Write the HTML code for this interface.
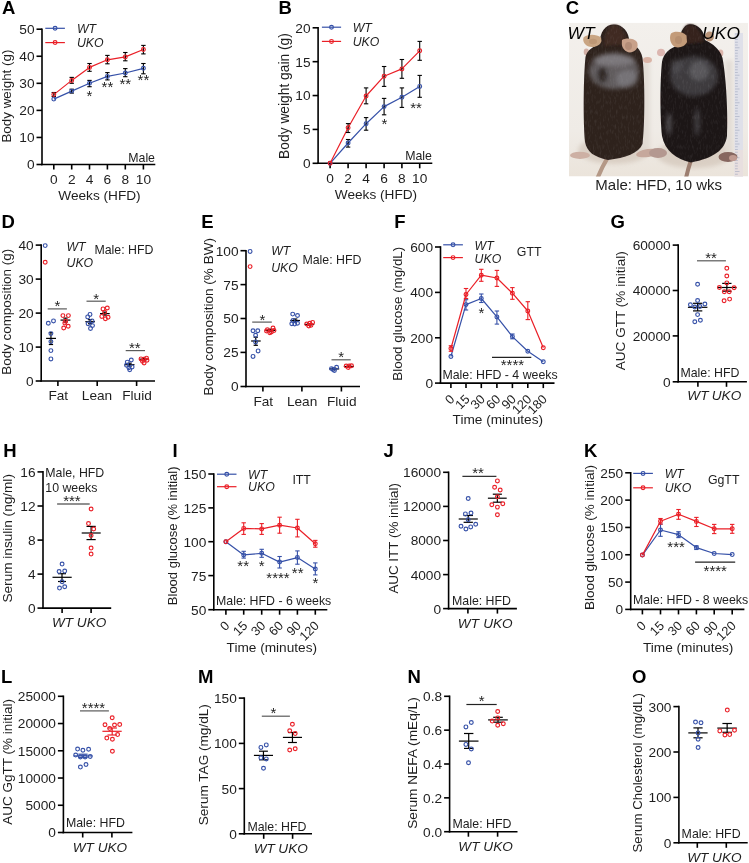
<!DOCTYPE html><html><head><meta charset="utf-8"><style>html,body{margin:0;padding:0;background:#fff;}svg{display:block;font-family:"Liberation Sans",sans-serif;will-change:transform;}</style></head><body>
<svg width="749" height="863" viewBox="0 0 749 863">
<rect width="749" height="863" fill="#fff"/>
<text x="2.00" y="13.60" font-size="18.5" text-anchor="start" fill="#000" style="font-weight:bold">A</text>
<line x1="42.00" y1="28.40" x2="42.00" y2="165.30" stroke="#000" stroke-width="1.6" stroke-linecap="butt"/>
<line x1="36.50" y1="29.20" x2="42.00" y2="29.20" stroke="#000" stroke-width="1.6" stroke-linecap="butt"/>
<text x="34.50" y="34.10" font-size="13.7" text-anchor="end" fill="#1e1e1e">50</text>
<line x1="36.50" y1="56.26" x2="42.00" y2="56.26" stroke="#000" stroke-width="1.6" stroke-linecap="butt"/>
<text x="34.50" y="61.16" font-size="13.7" text-anchor="end" fill="#1e1e1e">40</text>
<line x1="36.50" y1="83.32" x2="42.00" y2="83.32" stroke="#000" stroke-width="1.6" stroke-linecap="butt"/>
<text x="34.50" y="88.22" font-size="13.7" text-anchor="end" fill="#1e1e1e">30</text>
<line x1="36.50" y1="110.38" x2="42.00" y2="110.38" stroke="#000" stroke-width="1.6" stroke-linecap="butt"/>
<text x="34.50" y="115.28" font-size="13.7" text-anchor="end" fill="#1e1e1e">20</text>
<line x1="36.50" y1="137.44" x2="42.00" y2="137.44" stroke="#000" stroke-width="1.6" stroke-linecap="butt"/>
<text x="34.50" y="142.34" font-size="13.7" text-anchor="end" fill="#1e1e1e">10</text>
<line x1="36.50" y1="164.50" x2="42.00" y2="164.50" stroke="#000" stroke-width="1.6" stroke-linecap="butt"/>
<text x="34.50" y="169.40" font-size="13.7" text-anchor="end" fill="#1e1e1e">0</text>
<line x1="41.20" y1="164.50" x2="155.30" y2="164.50" stroke="#000" stroke-width="1.6" stroke-linecap="butt"/>
<line x1="53.80" y1="164.50" x2="53.80" y2="169.50" stroke="#000" stroke-width="1.6" stroke-linecap="butt"/>
<line x1="71.70" y1="164.50" x2="71.70" y2="169.50" stroke="#000" stroke-width="1.6" stroke-linecap="butt"/>
<line x1="89.50" y1="164.50" x2="89.50" y2="169.50" stroke="#000" stroke-width="1.6" stroke-linecap="butt"/>
<line x1="107.40" y1="164.50" x2="107.40" y2="169.50" stroke="#000" stroke-width="1.6" stroke-linecap="butt"/>
<line x1="125.30" y1="164.50" x2="125.30" y2="169.50" stroke="#000" stroke-width="1.6" stroke-linecap="butt"/>
<line x1="143.40" y1="164.50" x2="143.40" y2="169.50" stroke="#000" stroke-width="1.6" stroke-linecap="butt"/>
<text x="53.80" y="183.60" font-size="13.7" text-anchor="middle" fill="#1e1e1e">0</text>
<text x="71.70" y="183.60" font-size="13.7" text-anchor="middle" fill="#1e1e1e">2</text>
<text x="89.50" y="183.60" font-size="13.7" text-anchor="middle" fill="#1e1e1e">4</text>
<text x="107.40" y="183.60" font-size="13.7" text-anchor="middle" fill="#1e1e1e">6</text>
<text x="125.30" y="183.60" font-size="13.7" text-anchor="middle" fill="#1e1e1e">8</text>
<text x="143.40" y="183.60" font-size="13.7" text-anchor="middle" fill="#1e1e1e">10</text>
<text x="99.50" y="199.60" font-size="13.65" text-anchor="middle" fill="#1e1e1e">Weeks (HFD)</text>
<text x="11.40" y="96.10" font-size="13.4" text-anchor="middle" fill="#1e1e1e" transform="rotate(-90 11.4 96.1)">Body weight (g)</text>
<line x1="45.30" y1="28.30" x2="64.90" y2="28.30" stroke="#3651a8" stroke-width="1.2" stroke-linecap="butt"/>
<circle cx="55.10" cy="28.30" r="1.9" fill="none" stroke="#3651a8" stroke-width="1.15"/>
<text x="76.90" y="33.00" font-size="12.3" text-anchor="start" fill="#1e1e1e" style="font-style:italic">WT</text>
<line x1="45.30" y1="42.60" x2="64.90" y2="42.60" stroke="#ea1f27" stroke-width="1.2" stroke-linecap="butt"/>
<circle cx="55.10" cy="42.60" r="1.9" fill="none" stroke="#ea1f27" stroke-width="1.15"/>
<text x="76.90" y="47.40" font-size="12.3" text-anchor="start" fill="#1e1e1e" style="font-style:italic">UKO</text>
<text x="155.00" y="162.20" font-size="12.35" text-anchor="end" fill="#1e1e1e">Male</text>
<polyline points="53.80,99.10 71.70,91.10 89.50,83.30 107.40,76.40 125.30,73.00 143.40,68.30" fill="none" stroke="#3651a8" stroke-width="1.2" stroke-linejoin="round"/>
<line x1="71.70" y1="89.20" x2="71.70" y2="93.10" stroke="#000" stroke-width="1.1" stroke-linecap="butt"/>
<line x1="69.50" y1="89.20" x2="73.90" y2="89.20" stroke="#000" stroke-width="1.1" stroke-linecap="butt"/>
<line x1="69.50" y1="93.10" x2="73.90" y2="93.10" stroke="#000" stroke-width="1.1" stroke-linecap="butt"/>
<line x1="89.50" y1="80.40" x2="89.50" y2="86.70" stroke="#000" stroke-width="1.1" stroke-linecap="butt"/>
<line x1="87.30" y1="80.40" x2="91.70" y2="80.40" stroke="#000" stroke-width="1.1" stroke-linecap="butt"/>
<line x1="87.30" y1="86.70" x2="91.70" y2="86.70" stroke="#000" stroke-width="1.1" stroke-linecap="butt"/>
<line x1="107.40" y1="72.60" x2="107.40" y2="79.90" stroke="#000" stroke-width="1.1" stroke-linecap="butt"/>
<line x1="105.20" y1="72.60" x2="109.60" y2="72.60" stroke="#000" stroke-width="1.1" stroke-linecap="butt"/>
<line x1="105.20" y1="79.90" x2="109.60" y2="79.90" stroke="#000" stroke-width="1.1" stroke-linecap="butt"/>
<line x1="125.30" y1="68.60" x2="125.30" y2="76.70" stroke="#000" stroke-width="1.1" stroke-linecap="butt"/>
<line x1="123.10" y1="68.60" x2="127.50" y2="68.60" stroke="#000" stroke-width="1.1" stroke-linecap="butt"/>
<line x1="123.10" y1="76.70" x2="127.50" y2="76.70" stroke="#000" stroke-width="1.1" stroke-linecap="butt"/>
<line x1="143.40" y1="63.50" x2="143.40" y2="73.80" stroke="#000" stroke-width="1.1" stroke-linecap="butt"/>
<line x1="141.20" y1="63.50" x2="145.60" y2="63.50" stroke="#000" stroke-width="1.1" stroke-linecap="butt"/>
<line x1="141.20" y1="73.80" x2="145.60" y2="73.80" stroke="#000" stroke-width="1.1" stroke-linecap="butt"/>
<circle cx="53.80" cy="99.10" r="1.9" fill="none" stroke="#3651a8" stroke-width="1.15"/>
<circle cx="71.70" cy="91.10" r="1.9" fill="none" stroke="#3651a8" stroke-width="1.15"/>
<circle cx="89.50" cy="83.30" r="1.9" fill="none" stroke="#3651a8" stroke-width="1.15"/>
<circle cx="107.40" cy="76.40" r="1.9" fill="none" stroke="#3651a8" stroke-width="1.15"/>
<circle cx="125.30" cy="73.00" r="1.9" fill="none" stroke="#3651a8" stroke-width="1.15"/>
<circle cx="143.40" cy="68.30" r="1.9" fill="none" stroke="#3651a8" stroke-width="1.15"/>
<polyline points="53.80,94.60 71.70,80.40 89.50,67.40 107.40,59.80 125.30,56.90 143.40,49.50" fill="none" stroke="#ea1f27" stroke-width="1.2" stroke-linejoin="round"/>
<line x1="53.80" y1="92.50" x2="53.80" y2="96.50" stroke="#000" stroke-width="1.1" stroke-linecap="butt"/>
<line x1="51.60" y1="92.50" x2="56.00" y2="92.50" stroke="#000" stroke-width="1.1" stroke-linecap="butt"/>
<line x1="51.60" y1="96.50" x2="56.00" y2="96.50" stroke="#000" stroke-width="1.1" stroke-linecap="butt"/>
<line x1="71.70" y1="77.40" x2="71.70" y2="83.30" stroke="#000" stroke-width="1.1" stroke-linecap="butt"/>
<line x1="69.50" y1="77.40" x2="73.90" y2="77.40" stroke="#000" stroke-width="1.1" stroke-linecap="butt"/>
<line x1="69.50" y1="83.30" x2="73.90" y2="83.30" stroke="#000" stroke-width="1.1" stroke-linecap="butt"/>
<line x1="89.50" y1="63.50" x2="89.50" y2="71.30" stroke="#000" stroke-width="1.1" stroke-linecap="butt"/>
<line x1="87.30" y1="63.50" x2="91.70" y2="63.50" stroke="#000" stroke-width="1.1" stroke-linecap="butt"/>
<line x1="87.30" y1="71.30" x2="91.70" y2="71.30" stroke="#000" stroke-width="1.1" stroke-linecap="butt"/>
<line x1="107.40" y1="55.40" x2="107.40" y2="63.80" stroke="#000" stroke-width="1.1" stroke-linecap="butt"/>
<line x1="105.20" y1="55.40" x2="109.60" y2="55.40" stroke="#000" stroke-width="1.1" stroke-linecap="butt"/>
<line x1="105.20" y1="63.80" x2="109.60" y2="63.80" stroke="#000" stroke-width="1.1" stroke-linecap="butt"/>
<line x1="125.30" y1="52.50" x2="125.30" y2="60.80" stroke="#000" stroke-width="1.1" stroke-linecap="butt"/>
<line x1="123.10" y1="52.50" x2="127.50" y2="52.50" stroke="#000" stroke-width="1.1" stroke-linecap="butt"/>
<line x1="123.10" y1="60.80" x2="127.50" y2="60.80" stroke="#000" stroke-width="1.1" stroke-linecap="butt"/>
<line x1="143.40" y1="45.40" x2="143.40" y2="53.90" stroke="#000" stroke-width="1.1" stroke-linecap="butt"/>
<line x1="141.20" y1="45.40" x2="145.60" y2="45.40" stroke="#000" stroke-width="1.1" stroke-linecap="butt"/>
<line x1="141.20" y1="53.90" x2="145.60" y2="53.90" stroke="#000" stroke-width="1.1" stroke-linecap="butt"/>
<circle cx="53.80" cy="94.60" r="1.9" fill="none" stroke="#ea1f27" stroke-width="1.15"/>
<circle cx="71.70" cy="80.40" r="1.9" fill="none" stroke="#ea1f27" stroke-width="1.15"/>
<circle cx="89.50" cy="67.40" r="1.9" fill="none" stroke="#ea1f27" stroke-width="1.15"/>
<circle cx="107.40" cy="59.80" r="1.9" fill="none" stroke="#ea1f27" stroke-width="1.15"/>
<circle cx="125.30" cy="56.90" r="1.9" fill="none" stroke="#ea1f27" stroke-width="1.15"/>
<circle cx="143.40" cy="49.50" r="1.9" fill="none" stroke="#ea1f27" stroke-width="1.15"/>
<text x="89.50" y="100.80" font-size="15" text-anchor="middle" fill="#1e1e1e">*</text>
<text x="107.40" y="91.70" font-size="15" text-anchor="middle" fill="#1e1e1e">**</text>
<text x="125.30" y="88.70" font-size="15" text-anchor="middle" fill="#1e1e1e">**</text>
<text x="143.40" y="85.49" font-size="15" text-anchor="middle" fill="#1e1e1e">**</text>
<text x="278.60" y="13.60" font-size="18.5" text-anchor="start" fill="#000" style="font-weight:bold">B</text>
<line x1="318.10" y1="27.00" x2="318.10" y2="164.10" stroke="#000" stroke-width="1.6" stroke-linecap="butt"/>
<line x1="312.60" y1="27.80" x2="318.10" y2="27.80" stroke="#000" stroke-width="1.6" stroke-linecap="butt"/>
<text x="310.60" y="32.70" font-size="13.7" text-anchor="end" fill="#1e1e1e">20</text>
<line x1="312.60" y1="61.67" x2="318.10" y2="61.67" stroke="#000" stroke-width="1.6" stroke-linecap="butt"/>
<text x="310.60" y="66.58" font-size="13.7" text-anchor="end" fill="#1e1e1e">15</text>
<line x1="312.60" y1="95.55" x2="318.10" y2="95.55" stroke="#000" stroke-width="1.6" stroke-linecap="butt"/>
<text x="310.60" y="100.45" font-size="13.7" text-anchor="end" fill="#1e1e1e">10</text>
<line x1="312.60" y1="129.43" x2="318.10" y2="129.43" stroke="#000" stroke-width="1.6" stroke-linecap="butt"/>
<text x="310.60" y="134.33" font-size="13.7" text-anchor="end" fill="#1e1e1e">5</text>
<line x1="312.60" y1="163.30" x2="318.10" y2="163.30" stroke="#000" stroke-width="1.6" stroke-linecap="butt"/>
<text x="310.60" y="168.20" font-size="13.7" text-anchor="end" fill="#1e1e1e">0</text>
<line x1="317.30" y1="163.30" x2="432.30" y2="163.30" stroke="#000" stroke-width="1.6" stroke-linecap="butt"/>
<line x1="330.10" y1="163.30" x2="330.10" y2="168.30" stroke="#000" stroke-width="1.6" stroke-linecap="butt"/>
<line x1="348.10" y1="163.30" x2="348.10" y2="168.30" stroke="#000" stroke-width="1.6" stroke-linecap="butt"/>
<line x1="366.10" y1="163.30" x2="366.10" y2="168.30" stroke="#000" stroke-width="1.6" stroke-linecap="butt"/>
<line x1="384.10" y1="163.30" x2="384.10" y2="168.30" stroke="#000" stroke-width="1.6" stroke-linecap="butt"/>
<line x1="401.90" y1="163.30" x2="401.90" y2="168.30" stroke="#000" stroke-width="1.6" stroke-linecap="butt"/>
<line x1="419.70" y1="163.30" x2="419.70" y2="168.30" stroke="#000" stroke-width="1.6" stroke-linecap="butt"/>
<text x="330.10" y="182.60" font-size="13.7" text-anchor="middle" fill="#1e1e1e">0</text>
<text x="348.10" y="182.60" font-size="13.7" text-anchor="middle" fill="#1e1e1e">2</text>
<text x="366.10" y="182.60" font-size="13.7" text-anchor="middle" fill="#1e1e1e">4</text>
<text x="384.10" y="182.60" font-size="13.7" text-anchor="middle" fill="#1e1e1e">6</text>
<text x="401.90" y="182.60" font-size="13.7" text-anchor="middle" fill="#1e1e1e">8</text>
<text x="419.70" y="182.60" font-size="13.7" text-anchor="middle" fill="#1e1e1e">10</text>
<text x="376.00" y="198.60" font-size="13.65" text-anchor="middle" fill="#1e1e1e">Weeks (HFD)</text>
<text x="288.60" y="96.00" font-size="13.8" text-anchor="middle" fill="#1e1e1e" transform="rotate(-90 288.6 96.0)">Body weight gain (g)</text>
<line x1="321.90" y1="27.20" x2="341.10" y2="27.20" stroke="#3651a8" stroke-width="1.2" stroke-linecap="butt"/>
<circle cx="331.50" cy="27.20" r="1.9" fill="none" stroke="#3651a8" stroke-width="1.15"/>
<text x="352.70" y="31.60" font-size="12.3" text-anchor="start" fill="#1e1e1e" style="font-style:italic">WT</text>
<line x1="321.90" y1="41.40" x2="341.10" y2="41.40" stroke="#ea1f27" stroke-width="1.2" stroke-linecap="butt"/>
<circle cx="331.50" cy="41.40" r="1.9" fill="none" stroke="#ea1f27" stroke-width="1.15"/>
<text x="352.70" y="45.90" font-size="12.3" text-anchor="start" fill="#1e1e1e" style="font-style:italic">UKO</text>
<text x="431.90" y="160.30" font-size="12.35" text-anchor="end" fill="#1e1e1e">Male</text>
<polyline points="330.10,163.30 348.10,143.00 366.10,123.70 384.10,106.60 401.90,97.30 419.70,86.40" fill="none" stroke="#3651a8" stroke-width="1.2" stroke-linejoin="round"/>
<line x1="348.10" y1="139.50" x2="348.10" y2="147.10" stroke="#000" stroke-width="1.1" stroke-linecap="butt"/>
<line x1="345.90" y1="139.50" x2="350.30" y2="139.50" stroke="#000" stroke-width="1.1" stroke-linecap="butt"/>
<line x1="345.90" y1="147.10" x2="350.30" y2="147.10" stroke="#000" stroke-width="1.1" stroke-linecap="butt"/>
<line x1="366.10" y1="117.60" x2="366.10" y2="130.20" stroke="#000" stroke-width="1.1" stroke-linecap="butt"/>
<line x1="363.90" y1="117.60" x2="368.30" y2="117.60" stroke="#000" stroke-width="1.1" stroke-linecap="butt"/>
<line x1="363.90" y1="130.20" x2="368.30" y2="130.20" stroke="#000" stroke-width="1.1" stroke-linecap="butt"/>
<line x1="384.10" y1="98.40" x2="384.10" y2="114.80" stroke="#000" stroke-width="1.1" stroke-linecap="butt"/>
<line x1="381.90" y1="98.40" x2="386.30" y2="98.40" stroke="#000" stroke-width="1.1" stroke-linecap="butt"/>
<line x1="381.90" y1="114.80" x2="386.30" y2="114.80" stroke="#000" stroke-width="1.1" stroke-linecap="butt"/>
<line x1="401.90" y1="87.90" x2="401.90" y2="107.40" stroke="#000" stroke-width="1.1" stroke-linecap="butt"/>
<line x1="399.70" y1="87.90" x2="404.10" y2="87.90" stroke="#000" stroke-width="1.1" stroke-linecap="butt"/>
<line x1="399.70" y1="107.40" x2="404.10" y2="107.40" stroke="#000" stroke-width="1.1" stroke-linecap="butt"/>
<line x1="419.70" y1="75.40" x2="419.70" y2="97.30" stroke="#000" stroke-width="1.1" stroke-linecap="butt"/>
<line x1="417.50" y1="75.40" x2="421.90" y2="75.40" stroke="#000" stroke-width="1.1" stroke-linecap="butt"/>
<line x1="417.50" y1="97.30" x2="421.90" y2="97.30" stroke="#000" stroke-width="1.1" stroke-linecap="butt"/>
<circle cx="330.10" cy="163.30" r="1.9" fill="none" stroke="#3651a8" stroke-width="1.15"/>
<circle cx="348.10" cy="143.00" r="1.9" fill="none" stroke="#3651a8" stroke-width="1.15"/>
<circle cx="366.10" cy="123.70" r="1.9" fill="none" stroke="#3651a8" stroke-width="1.15"/>
<circle cx="384.10" cy="106.60" r="1.9" fill="none" stroke="#3651a8" stroke-width="1.15"/>
<circle cx="401.90" cy="97.30" r="1.9" fill="none" stroke="#3651a8" stroke-width="1.15"/>
<circle cx="419.70" cy="86.40" r="1.9" fill="none" stroke="#3651a8" stroke-width="1.15"/>
<polyline points="330.10,163.30 348.10,127.80 366.10,96.00 384.10,76.20 401.90,68.90 419.70,50.80" fill="none" stroke="#ea1f27" stroke-width="1.2" stroke-linejoin="round"/>
<line x1="348.10" y1="123.60" x2="348.10" y2="132.50" stroke="#000" stroke-width="1.1" stroke-linecap="butt"/>
<line x1="345.90" y1="123.60" x2="350.30" y2="123.60" stroke="#000" stroke-width="1.1" stroke-linecap="butt"/>
<line x1="345.90" y1="132.50" x2="350.30" y2="132.50" stroke="#000" stroke-width="1.1" stroke-linecap="butt"/>
<line x1="366.10" y1="87.90" x2="366.10" y2="103.80" stroke="#000" stroke-width="1.1" stroke-linecap="butt"/>
<line x1="363.90" y1="87.90" x2="368.30" y2="87.90" stroke="#000" stroke-width="1.1" stroke-linecap="butt"/>
<line x1="363.90" y1="103.80" x2="368.30" y2="103.80" stroke="#000" stroke-width="1.1" stroke-linecap="butt"/>
<line x1="384.10" y1="66.50" x2="384.10" y2="86.40" stroke="#000" stroke-width="1.1" stroke-linecap="butt"/>
<line x1="381.90" y1="66.50" x2="386.30" y2="66.50" stroke="#000" stroke-width="1.1" stroke-linecap="butt"/>
<line x1="381.90" y1="86.40" x2="386.30" y2="86.40" stroke="#000" stroke-width="1.1" stroke-linecap="butt"/>
<line x1="401.90" y1="59.50" x2="401.90" y2="78.30" stroke="#000" stroke-width="1.1" stroke-linecap="butt"/>
<line x1="399.70" y1="59.50" x2="404.10" y2="59.50" stroke="#000" stroke-width="1.1" stroke-linecap="butt"/>
<line x1="399.70" y1="78.30" x2="404.10" y2="78.30" stroke="#000" stroke-width="1.1" stroke-linecap="butt"/>
<line x1="419.70" y1="41.40" x2="419.70" y2="60.30" stroke="#000" stroke-width="1.1" stroke-linecap="butt"/>
<line x1="417.50" y1="41.40" x2="421.90" y2="41.40" stroke="#000" stroke-width="1.1" stroke-linecap="butt"/>
<line x1="417.50" y1="60.30" x2="421.90" y2="60.30" stroke="#000" stroke-width="1.1" stroke-linecap="butt"/>
<circle cx="330.10" cy="163.30" r="1.9" fill="none" stroke="#ea1f27" stroke-width="1.15"/>
<circle cx="348.10" cy="127.80" r="1.9" fill="none" stroke="#ea1f27" stroke-width="1.15"/>
<circle cx="366.10" cy="96.00" r="1.9" fill="none" stroke="#ea1f27" stroke-width="1.15"/>
<circle cx="384.10" cy="76.20" r="1.9" fill="none" stroke="#ea1f27" stroke-width="1.15"/>
<circle cx="401.90" cy="68.90" r="1.9" fill="none" stroke="#ea1f27" stroke-width="1.15"/>
<circle cx="419.70" cy="50.80" r="1.9" fill="none" stroke="#ea1f27" stroke-width="1.15"/>
<text x="384.40" y="128.99" font-size="15" text-anchor="middle" fill="#1e1e1e">*</text>
<text x="416.00" y="113.10" font-size="15" text-anchor="middle" fill="#1e1e1e">**</text>
<text x="565.80" y="13.60" font-size="18.5" text-anchor="start" fill="#000" style="font-weight:bold">C</text>
<g id="photo"><defs>
<filter id="pb" x="-5%" y="-5%" width="110%" height="110%"><feGaussianBlur stdDeviation="0.6"/></filter>
<filter id="pb2" x="-30%" y="-30%" width="160%" height="160%"><feGaussianBlur stdDeviation="2.2"/></filter>
<filter id="pb3" x="-30%" y="-30%" width="160%" height="160%"><feGaussianBlur stdDeviation="1.0"/></filter>
<filter id="fur" x="0" y="0" width="100%" height="100%">
<feTurbulence type="fractalNoise" baseFrequency="0.6 0.2" numOctaves="2" seed="7" result="n"/>
<feColorMatrix type="matrix" values="0 0 0 0 0.55  0 0 0 0 0.55  0 0 0 0 0.58  0 0 0 1.6 -0.75"/>
</filter>
<linearGradient id="bgg" x1="0" y1="0" x2="0" y2="1"><stop offset="0" stop-color="#f3f0ec"/><stop offset="0.7" stop-color="#efebe6"/><stop offset="1" stop-color="#ebe4db"/></linearGradient>
<clipPath id="pclip"><rect x="569" y="22.7" width="179" height="153.8"/></clipPath>
<clipPath id="wtclip"><path d="M614 24.5 C623 24.5 629 32 629.5 42 C635 45 641 49 642.5 58 C645 80 645 125 642.5 144 C639 153 625 158 608 160 C594 157 587 152 585 142 C583 120 583.5 75 585.5 57 C587 50 594 46 599.5 44 C600 32 605 24.5 614 24.5 Z"/></clipPath>
<clipPath id="ukoclip"><path d="M690 24.3 C699 24.5 704 31 705 40 C713 44 720 49 722.5 58 C726.5 80 728 115 727 136 C725 150 714 158 691 162.5 C676 159 665 151 662 136 C660 115 660 80 662 62 C663.5 53 670 48 679 45 C679 35 683 24.3 690 24.3 Z"/></clipPath>
</defs>
<g clip-path="url(#pclip)">
<rect x="569" y="22.7" width="179" height="153.8" fill="url(#bgg)"/>
<g filter="url(#pb2)" opacity="0.55">
<ellipse cx="614" cy="150" rx="36" ry="14" fill="#cbbcae"/>
<ellipse cx="694" cy="154" rx="38" ry="14" fill="#cbbcae"/>
<rect x="640" y="60" width="10" height="90" fill="#d8d0c8"/>
<rect x="725" y="60" width="8" height="95" fill="#d8d0c8"/>
</g>
<rect x="734.5" y="33" width="8.5" height="144" fill="#dfe0e9"/>
<rect x="734.5" y="150" width="8.5" height="27" fill="#e8dfdf"/>
<g stroke="#a3a9c0" stroke-width="0.6">
<line x1="735" y1="34.00" x2="739.5" y2="34.00"/>
<line x1="735" y1="36.75" x2="737.8" y2="36.75"/>
<line x1="735" y1="39.50" x2="737.8" y2="39.50"/>
<line x1="735" y1="42.25" x2="737.8" y2="42.25"/>
<line x1="735" y1="45.00" x2="737.8" y2="45.00"/>
<line x1="735" y1="47.75" x2="739.5" y2="47.75"/>
<line x1="735" y1="50.50" x2="737.8" y2="50.50"/>
<line x1="735" y1="53.25" x2="737.8" y2="53.25"/>
<line x1="735" y1="56.00" x2="737.8" y2="56.00"/>
<line x1="735" y1="58.75" x2="737.8" y2="58.75"/>
<line x1="735" y1="61.50" x2="739.5" y2="61.50"/>
<line x1="735" y1="64.25" x2="737.8" y2="64.25"/>
<line x1="735" y1="67.00" x2="737.8" y2="67.00"/>
<line x1="735" y1="69.75" x2="737.8" y2="69.75"/>
<line x1="735" y1="72.50" x2="737.8" y2="72.50"/>
<line x1="735" y1="75.25" x2="739.5" y2="75.25"/>
<line x1="735" y1="78.00" x2="737.8" y2="78.00"/>
<line x1="735" y1="80.75" x2="737.8" y2="80.75"/>
<line x1="735" y1="83.50" x2="737.8" y2="83.50"/>
<line x1="735" y1="86.25" x2="737.8" y2="86.25"/>
<line x1="735" y1="89.00" x2="739.5" y2="89.00"/>
<line x1="735" y1="91.75" x2="737.8" y2="91.75"/>
<line x1="735" y1="94.50" x2="737.8" y2="94.50"/>
<line x1="735" y1="97.25" x2="737.8" y2="97.25"/>
<line x1="735" y1="100.00" x2="737.8" y2="100.00"/>
<line x1="735" y1="102.75" x2="739.5" y2="102.75"/>
<line x1="735" y1="105.50" x2="737.8" y2="105.50"/>
<line x1="735" y1="108.25" x2="737.8" y2="108.25"/>
<line x1="735" y1="111.00" x2="737.8" y2="111.00"/>
<line x1="735" y1="113.75" x2="737.8" y2="113.75"/>
<line x1="735" y1="116.50" x2="739.5" y2="116.50"/>
<line x1="735" y1="119.25" x2="737.8" y2="119.25"/>
<line x1="735" y1="122.00" x2="737.8" y2="122.00"/>
<line x1="735" y1="124.75" x2="737.8" y2="124.75"/>
<line x1="735" y1="127.50" x2="737.8" y2="127.50"/>
<line x1="735" y1="130.25" x2="739.5" y2="130.25"/>
<line x1="735" y1="133.00" x2="737.8" y2="133.00"/>
<line x1="735" y1="135.75" x2="737.8" y2="135.75"/>
<line x1="735" y1="138.50" x2="737.8" y2="138.50"/>
<line x1="735" y1="141.25" x2="737.8" y2="141.25"/>
<line x1="735" y1="144.00" x2="739.5" y2="144.00"/>
<line x1="735" y1="146.75" x2="737.8" y2="146.75"/>
<line x1="735" y1="149.50" x2="737.8" y2="149.50"/>
<line x1="735" y1="152.25" x2="737.8" y2="152.25"/>
<line x1="735" y1="155.00" x2="737.8" y2="155.00"/>
<line x1="735" y1="157.75" x2="739.5" y2="157.75"/>
<line x1="735" y1="160.50" x2="737.8" y2="160.50"/>
<line x1="735" y1="163.25" x2="737.8" y2="163.25"/>
<line x1="735" y1="166.00" x2="737.8" y2="166.00"/>
<line x1="735" y1="168.75" x2="737.8" y2="168.75"/>
<line x1="735" y1="171.50" x2="739.5" y2="171.50"/>
<line x1="735" y1="174.25" x2="737.8" y2="174.25"/>
</g>
<g filter="url(#pb)">
<path d="M608 157 Q602 167 597.5 178" stroke="#b49886" stroke-width="4.2" fill="none" stroke-linecap="round"/>
<path d="M691 160 Q688 169 686 178" stroke="#9c7e70" stroke-width="4" fill="none" stroke-linecap="round"/>
<ellipse cx="580" cy="155.3" rx="10" ry="3.6" fill="#cdb0a4"/>
<ellipse cx="648" cy="153" rx="12" ry="4" fill="#c6a89c" transform="rotate(-8 648 153)"/>
<ellipse cx="658" cy="153" rx="9" ry="5" fill="#b49890"/>
<ellipse cx="728" cy="157" rx="9.5" ry="5" fill="#86665e"/>
<ellipse cx="733" cy="158" rx="4" ry="3" fill="#c09a90"/>
<ellipse cx="586.3" cy="52" rx="2.6" ry="3.4" fill="#d2b0a6"/>
<ellipse cx="647.5" cy="60" rx="4.5" ry="3" fill="#dab4a6"/>
<ellipse cx="661" cy="52.5" rx="4" ry="3.8" fill="#dcb6b0"/>
<ellipse cx="720.6" cy="53" rx="2.8" ry="3.6" fill="#dcb6ac"/>
<path d="M614 24.5 C623 24.5 629 32 629.5 42 C635 45 641 49 642.5 58 C645 80 645 125 642.5 144 C639 153 625 158 608 160 C594 157 587 152 585 142 C583 120 583.5 75 585.5 57 C587 50 594 46 599.5 44 C600 32 605 24.5 614 24.5 Z" fill="#2d211e"/>
<path d="M690 24.3 C699 24.5 704 31 705 40 C713 44 720 49 722.5 58 C726.5 80 728 115 727 136 C725 150 714 158 691 162.5 C676 159 665 151 662 136 C660 115 660 80 662 62 C663.5 53 670 48 679 45 C679 35 683 24.3 690 24.3 Z" fill="#1d1717"/>
</g>
<g filter="url(#pb2)">
<ellipse cx="614" cy="71" rx="25" ry="18" fill="#77757a" opacity="0.7"/>
<ellipse cx="614" cy="60" rx="21" ry="6" fill="#9b9aa0" opacity="0.45"/>
<ellipse cx="627" cy="79" rx="11" ry="9" fill="#8a898f" opacity="0.5"/>
<ellipse cx="602.5" cy="75" rx="5.5" ry="8.5" fill="#2d211e" opacity="0.85"/>
<ellipse cx="592" cy="62" rx="3.5" ry="4" fill="#3a2e2a" opacity="0.6"/>
<ellipse cx="694" cy="76" rx="24" ry="20" fill="#5a595e" opacity="0.55"/>
<ellipse cx="699" cy="71" rx="10" ry="10" fill="#7a797e" opacity="0.45"/>
<ellipse cx="676" cy="66" rx="6" ry="7" fill="#6a6a70" opacity="0.35"/>
<ellipse cx="669" cy="124" rx="2.5" ry="11" fill="#7a7a80" opacity="0.55"/>
<ellipse cx="697" cy="122" rx="3" ry="14" fill="#66666c" opacity="0.45"/>
</g>
<g filter="url(#pb3)">
<path d="M604 46 C604 34 608 25.5 614.5 25 C621 25.5 626 33 626.5 44 Z" fill="#3f2b24"/>
<path d="M681 45 C681 33 684 24.5 689.5 24.3 C696 24.5 702 31 703.5 42 Z" fill="#35241f"/>
</g>
<g clip-path="url(#wtclip)"><rect x="580" y="20" width="70" height="145" filter="url(#fur)" opacity="0.15"/></g>
<g clip-path="url(#ukoclip)"><rect x="655" y="20" width="78" height="148" filter="url(#fur)" opacity="0.14"/></g>
<g filter="url(#pb)">
<path d="M601 37.5 C596 33.5 587 34 583.5 37.5 C582 42 586 47 592 47 C597 47 600.5 44.5 601.5 41 Z" fill="#c9a583"/>
<ellipse cx="593" cy="41.5" rx="4" ry="2.8" fill="#b8926f" opacity="0.7"/>
<path d="M622 40 C626 37.5 634 38 637 42 C639 47 636 52 630 52.5 C625 52 622 48 621.8 44 Z" fill="#c8a18a"/>
<ellipse cx="628.5" cy="46" rx="3.5" ry="4" fill="#a98570" opacity="0.7"/>
<path d="M686.5 35.5 C682 31 674 31 671 33.5 C669 37.5 670 44 675 47 C680 48.5 685 46 687 42 Z" fill="#c39b79"/>
<ellipse cx="678.5" cy="40" rx="3.5" ry="4" fill="#ad876a" opacity="0.6"/>
<ellipse cx="709.5" cy="36.5" rx="4.5" ry="5" fill="#b89478"/>
</g>
</g>
<text x="567.5" y="38.6" font-size="17.4" fill="#000" style="font-style:italic">WT</text>
<text x="702.3" y="38.5" font-size="17.4" fill="#000" style="font-style:italic">UKO</text>
</g>
<text x="595.30" y="190.20" font-size="15.0" text-anchor="start" fill="#1e1e1e">Male: HFD, 10 wks</text>
<text x="1.50" y="227.50" font-size="18.5" text-anchor="start" fill="#000" style="font-weight:bold">D</text>
<line x1="41.20" y1="244.30" x2="41.20" y2="381.80" stroke="#000" stroke-width="1.6" stroke-linecap="butt"/>
<line x1="35.70" y1="245.10" x2="41.20" y2="245.10" stroke="#000" stroke-width="1.6" stroke-linecap="butt"/>
<text x="33.70" y="250.00" font-size="13.7" text-anchor="end" fill="#1e1e1e">40</text>
<line x1="35.70" y1="279.10" x2="41.20" y2="279.10" stroke="#000" stroke-width="1.6" stroke-linecap="butt"/>
<text x="33.70" y="284.00" font-size="13.7" text-anchor="end" fill="#1e1e1e">30</text>
<line x1="35.70" y1="313.10" x2="41.20" y2="313.10" stroke="#000" stroke-width="1.6" stroke-linecap="butt"/>
<text x="33.70" y="318.00" font-size="13.7" text-anchor="end" fill="#1e1e1e">20</text>
<line x1="35.70" y1="347.10" x2="41.20" y2="347.10" stroke="#000" stroke-width="1.6" stroke-linecap="butt"/>
<text x="33.70" y="352.00" font-size="13.7" text-anchor="end" fill="#1e1e1e">10</text>
<line x1="35.70" y1="381.00" x2="41.20" y2="381.00" stroke="#000" stroke-width="1.6" stroke-linecap="butt"/>
<text x="33.70" y="385.90" font-size="13.7" text-anchor="end" fill="#1e1e1e">0</text>
<line x1="40.40" y1="381.00" x2="155.00" y2="381.00" stroke="#000" stroke-width="1.6" stroke-linecap="butt"/>
<line x1="57.90" y1="381.00" x2="57.90" y2="386.00" stroke="#000" stroke-width="1.6" stroke-linecap="butt"/>
<line x1="97.20" y1="381.00" x2="97.20" y2="386.00" stroke="#000" stroke-width="1.6" stroke-linecap="butt"/>
<line x1="136.60" y1="381.00" x2="136.60" y2="386.00" stroke="#000" stroke-width="1.6" stroke-linecap="butt"/>
<text x="58.30" y="400.40" font-size="13.65" text-anchor="middle" fill="#1e1e1e">Fat</text>
<text x="97.00" y="400.40" font-size="13.65" text-anchor="middle" fill="#1e1e1e">Lean</text>
<text x="137.00" y="400.40" font-size="13.65" text-anchor="middle" fill="#1e1e1e">Fluid</text>
<text x="11.00" y="311.80" font-size="13.4" text-anchor="middle" fill="#1e1e1e" transform="rotate(-90 11.0 311.8)">Body composition (g)</text>
<circle cx="45.20" cy="245.60" r="1.9" fill="none" stroke="#3651a8" stroke-width="1.15"/>
<text x="66.50" y="250.70" font-size="12.3" text-anchor="start" fill="#1e1e1e" style="font-style:italic">WT</text>
<circle cx="45.20" cy="262.30" r="1.9" fill="none" stroke="#ea1f27" stroke-width="1.15"/>
<text x="66.50" y="267.20" font-size="12.3" text-anchor="start" fill="#1e1e1e" style="font-style:italic">UKO</text>
<text x="94.40" y="254.00" font-size="12.35" text-anchor="start" fill="#1e1e1e">Male: HFD</text>
<line x1="46.10" y1="338.40" x2="56.00" y2="338.40" stroke="#000" stroke-width="1.2" stroke-linecap="butt"/>
<line x1="50.95" y1="332.50" x2="50.95" y2="344.50" stroke="#000" stroke-width="1.2" stroke-linecap="butt"/>
<line x1="48.80" y1="332.50" x2="53.10" y2="332.50" stroke="#000" stroke-width="1.2" stroke-linecap="butt"/>
<line x1="48.80" y1="344.50" x2="53.10" y2="344.50" stroke="#000" stroke-width="1.2" stroke-linecap="butt"/>
<circle cx="48.30" cy="323.30" r="1.9" fill="none" stroke="#3651a8" stroke-width="1.15"/>
<circle cx="53.50" cy="320.90" r="1.9" fill="none" stroke="#3651a8" stroke-width="1.15"/>
<circle cx="50.90" cy="333.60" r="1.9" fill="none" stroke="#3651a8" stroke-width="1.15"/>
<circle cx="50.90" cy="341.60" r="1.9" fill="none" stroke="#3651a8" stroke-width="1.15"/>
<circle cx="50.90" cy="350.60" r="1.9" fill="none" stroke="#3651a8" stroke-width="1.15"/>
<circle cx="50.90" cy="358.90" r="1.9" fill="none" stroke="#3651a8" stroke-width="1.15"/>
<line x1="60.50" y1="320.10" x2="70.40" y2="320.10" stroke="#000" stroke-width="1.2" stroke-linecap="butt"/>
<line x1="65.45" y1="318.10" x2="65.45" y2="322.10" stroke="#000" stroke-width="1.2" stroke-linecap="butt"/>
<line x1="63.30" y1="318.10" x2="67.60" y2="318.10" stroke="#000" stroke-width="1.2" stroke-linecap="butt"/>
<line x1="63.30" y1="322.10" x2="67.60" y2="322.10" stroke="#000" stroke-width="1.2" stroke-linecap="butt"/>
<circle cx="62.90" cy="315.60" r="1.9" fill="none" stroke="#ea1f27" stroke-width="1.15"/>
<circle cx="68.40" cy="315.60" r="1.9" fill="none" stroke="#ea1f27" stroke-width="1.15"/>
<circle cx="65.60" cy="321.30" r="1.9" fill="none" stroke="#ea1f27" stroke-width="1.15"/>
<circle cx="63.70" cy="328.00" r="1.9" fill="none" stroke="#ea1f27" stroke-width="1.15"/>
<circle cx="68.20" cy="326.20" r="1.9" fill="none" stroke="#ea1f27" stroke-width="1.15"/>
<circle cx="64.80" cy="322.90" r="1.9" fill="none" stroke="#ea1f27" stroke-width="1.15"/>
<line x1="47.70" y1="308.90" x2="66.90" y2="308.90" stroke="#5a5a5a" stroke-width="1.2" stroke-linecap="butt"/>
<text x="0.00" y="0.00" font-size="13.7" text-anchor="middle" fill="#1e1e1e"></text>
<text x="57.50" y="310.69" font-size="15" text-anchor="middle" fill="#1e1e1e">*</text>
<line x1="85.30" y1="321.70" x2="95.00" y2="321.70" stroke="#000" stroke-width="1.2" stroke-linecap="butt"/>
<line x1="90.15" y1="319.70" x2="90.15" y2="323.70" stroke="#000" stroke-width="1.2" stroke-linecap="butt"/>
<line x1="88.00" y1="319.70" x2="92.30" y2="319.70" stroke="#000" stroke-width="1.2" stroke-linecap="butt"/>
<line x1="88.00" y1="323.70" x2="92.30" y2="323.70" stroke="#000" stroke-width="1.2" stroke-linecap="butt"/>
<circle cx="90.00" cy="314.40" r="1.9" fill="none" stroke="#3651a8" stroke-width="1.15"/>
<circle cx="87.70" cy="316.90" r="1.9" fill="none" stroke="#3651a8" stroke-width="1.15"/>
<circle cx="92.10" cy="320.90" r="1.9" fill="none" stroke="#3651a8" stroke-width="1.15"/>
<circle cx="88.10" cy="323.70" r="1.9" fill="none" stroke="#3651a8" stroke-width="1.15"/>
<circle cx="92.50" cy="325.60" r="1.9" fill="none" stroke="#3651a8" stroke-width="1.15"/>
<circle cx="90.50" cy="328.50" r="1.9" fill="none" stroke="#3651a8" stroke-width="1.15"/>
<line x1="100.00" y1="313.60" x2="109.70" y2="313.60" stroke="#000" stroke-width="1.2" stroke-linecap="butt"/>
<line x1="104.85" y1="312.10" x2="104.85" y2="315.10" stroke="#000" stroke-width="1.2" stroke-linecap="butt"/>
<line x1="102.70" y1="312.10" x2="107.00" y2="312.10" stroke="#000" stroke-width="1.2" stroke-linecap="butt"/>
<line x1="102.70" y1="315.10" x2="107.00" y2="315.10" stroke="#000" stroke-width="1.2" stroke-linecap="butt"/>
<circle cx="103.00" cy="308.90" r="1.9" fill="none" stroke="#ea1f27" stroke-width="1.15"/>
<circle cx="107.30" cy="308.00" r="1.9" fill="none" stroke="#ea1f27" stroke-width="1.15"/>
<circle cx="104.70" cy="312.10" r="1.9" fill="none" stroke="#ea1f27" stroke-width="1.15"/>
<circle cx="101.80" cy="316.40" r="1.9" fill="none" stroke="#ea1f27" stroke-width="1.15"/>
<circle cx="105.40" cy="318.80" r="1.9" fill="none" stroke="#ea1f27" stroke-width="1.15"/>
<circle cx="108.10" cy="317.20" r="1.9" fill="none" stroke="#ea1f27" stroke-width="1.15"/>
<line x1="86.50" y1="301.20" x2="105.70" y2="301.20" stroke="#5a5a5a" stroke-width="1.2" stroke-linecap="butt"/>
<text x="0.00" y="0.00" font-size="13.7" text-anchor="middle" fill="#1e1e1e"></text>
<text x="96.10" y="303.59" font-size="15" text-anchor="middle" fill="#1e1e1e">*</text>
<line x1="124.60" y1="364.70" x2="134.50" y2="364.70" stroke="#000" stroke-width="1.2" stroke-linecap="butt"/>
<line x1="129.55" y1="363.20" x2="129.55" y2="366.20" stroke="#000" stroke-width="1.2" stroke-linecap="butt"/>
<line x1="127.40" y1="363.20" x2="131.70" y2="363.20" stroke="#000" stroke-width="1.2" stroke-linecap="butt"/>
<line x1="127.40" y1="366.20" x2="131.70" y2="366.20" stroke="#000" stroke-width="1.2" stroke-linecap="butt"/>
<circle cx="127.30" cy="362.10" r="1.9" fill="none" stroke="#3651a8" stroke-width="1.15"/>
<circle cx="131.30" cy="360.00" r="1.9" fill="none" stroke="#3651a8" stroke-width="1.15"/>
<circle cx="126.50" cy="365.30" r="1.9" fill="none" stroke="#3651a8" stroke-width="1.15"/>
<circle cx="128.90" cy="367.70" r="1.9" fill="none" stroke="#3651a8" stroke-width="1.15"/>
<circle cx="132.10" cy="366.90" r="1.9" fill="none" stroke="#3651a8" stroke-width="1.15"/>
<circle cx="129.70" cy="369.80" r="1.9" fill="none" stroke="#3651a8" stroke-width="1.15"/>
<line x1="139.30" y1="359.20" x2="149.00" y2="359.20" stroke="#000" stroke-width="1.2" stroke-linecap="butt"/>
<line x1="144.15" y1="358.40" x2="144.15" y2="360.00" stroke="#000" stroke-width="1.2" stroke-linecap="butt"/>
<line x1="142.00" y1="358.40" x2="146.30" y2="358.40" stroke="#000" stroke-width="1.2" stroke-linecap="butt"/>
<line x1="142.00" y1="360.00" x2="146.30" y2="360.00" stroke="#000" stroke-width="1.2" stroke-linecap="butt"/>
<circle cx="141.00" cy="358.90" r="1.9" fill="none" stroke="#ea1f27" stroke-width="1.15"/>
<circle cx="143.80" cy="359.20" r="1.9" fill="none" stroke="#ea1f27" stroke-width="1.15"/>
<circle cx="146.50" cy="358.10" r="1.9" fill="none" stroke="#ea1f27" stroke-width="1.15"/>
<circle cx="142.50" cy="361.30" r="1.9" fill="none" stroke="#ea1f27" stroke-width="1.15"/>
<circle cx="144.10" cy="362.90" r="1.9" fill="none" stroke="#ea1f27" stroke-width="1.15"/>
<circle cx="147.00" cy="360.20" r="1.9" fill="none" stroke="#ea1f27" stroke-width="1.15"/>
<line x1="125.70" y1="350.60" x2="145.00" y2="350.60" stroke="#5a5a5a" stroke-width="1.2" stroke-linecap="butt"/>
<text x="0.00" y="0.00" font-size="13.7" text-anchor="middle" fill="#1e1e1e"></text>
<text x="134.80" y="353.00" font-size="15" text-anchor="middle" fill="#1e1e1e">**</text>
<text x="201.20" y="227.50" font-size="18.5" text-anchor="start" fill="#000" style="font-weight:bold">E</text>
<line x1="246.00" y1="249.90" x2="246.00" y2="387.30" stroke="#000" stroke-width="1.6" stroke-linecap="butt"/>
<line x1="240.50" y1="250.70" x2="246.00" y2="250.70" stroke="#000" stroke-width="1.6" stroke-linecap="butt"/>
<text x="238.50" y="255.60" font-size="13.7" text-anchor="end" fill="#1e1e1e">100</text>
<line x1="240.50" y1="284.60" x2="246.00" y2="284.60" stroke="#000" stroke-width="1.6" stroke-linecap="butt"/>
<text x="238.50" y="289.50" font-size="13.7" text-anchor="end" fill="#1e1e1e">75</text>
<line x1="240.50" y1="318.50" x2="246.00" y2="318.50" stroke="#000" stroke-width="1.6" stroke-linecap="butt"/>
<text x="238.50" y="323.40" font-size="13.7" text-anchor="end" fill="#1e1e1e">50</text>
<line x1="240.50" y1="352.40" x2="246.00" y2="352.40" stroke="#000" stroke-width="1.6" stroke-linecap="butt"/>
<text x="238.50" y="357.30" font-size="13.7" text-anchor="end" fill="#1e1e1e">25</text>
<line x1="240.50" y1="386.50" x2="246.00" y2="386.50" stroke="#000" stroke-width="1.6" stroke-linecap="butt"/>
<text x="238.50" y="391.40" font-size="13.7" text-anchor="end" fill="#1e1e1e">0</text>
<line x1="245.20" y1="386.50" x2="360.00" y2="386.50" stroke="#000" stroke-width="1.6" stroke-linecap="butt"/>
<line x1="262.90" y1="386.50" x2="262.90" y2="391.50" stroke="#000" stroke-width="1.6" stroke-linecap="butt"/>
<line x1="301.90" y1="386.50" x2="301.90" y2="391.50" stroke="#000" stroke-width="1.6" stroke-linecap="butt"/>
<line x1="341.40" y1="386.50" x2="341.40" y2="391.50" stroke="#000" stroke-width="1.6" stroke-linecap="butt"/>
<text x="263.30" y="405.80" font-size="13.65" text-anchor="middle" fill="#1e1e1e">Fat</text>
<text x="302.10" y="405.80" font-size="13.65" text-anchor="middle" fill="#1e1e1e">Lean</text>
<text x="341.70" y="405.80" font-size="13.65" text-anchor="middle" fill="#1e1e1e">Fluid</text>
<text x="213.20" y="316.70" font-size="13.55" text-anchor="middle" fill="#1e1e1e" transform="rotate(-90 213.2 316.7)">Body composition (% BW)</text>
<circle cx="250.10" cy="251.40" r="1.9" fill="none" stroke="#3651a8" stroke-width="1.15"/>
<text x="271.20" y="255.40" font-size="12.3" text-anchor="start" fill="#1e1e1e" style="font-style:italic">WT</text>
<circle cx="250.10" cy="266.60" r="1.9" fill="none" stroke="#ea1f27" stroke-width="1.15"/>
<text x="271.20" y="271.50" font-size="12.3" text-anchor="start" fill="#1e1e1e" style="font-style:italic">UKO</text>
<text x="302.40" y="263.90" font-size="12.35" text-anchor="start" fill="#1e1e1e">Male: HFD</text>
<line x1="251.10" y1="341.00" x2="260.70" y2="341.00" stroke="#000" stroke-width="1.2" stroke-linecap="butt"/>
<line x1="255.75" y1="337.20" x2="255.75" y2="345.30" stroke="#000" stroke-width="1.2" stroke-linecap="butt"/>
<line x1="253.60" y1="337.20" x2="257.90" y2="337.20" stroke="#000" stroke-width="1.2" stroke-linecap="butt"/>
<line x1="253.60" y1="345.30" x2="257.90" y2="345.30" stroke="#000" stroke-width="1.2" stroke-linecap="butt"/>
<circle cx="253.00" cy="330.80" r="1.9" fill="none" stroke="#3651a8" stroke-width="1.15"/>
<circle cx="257.80" cy="330.80" r="1.9" fill="none" stroke="#3651a8" stroke-width="1.15"/>
<circle cx="255.60" cy="335.20" r="1.9" fill="none" stroke="#3651a8" stroke-width="1.15"/>
<circle cx="255.60" cy="342.00" r="1.9" fill="none" stroke="#3651a8" stroke-width="1.15"/>
<circle cx="258.10" cy="350.90" r="1.9" fill="none" stroke="#3651a8" stroke-width="1.15"/>
<circle cx="253.00" cy="356.40" r="1.9" fill="none" stroke="#3651a8" stroke-width="1.15"/>
<line x1="265.30" y1="330.40" x2="275.40" y2="330.40" stroke="#000" stroke-width="1.2" stroke-linecap="butt"/>
<line x1="270.25" y1="329.20" x2="270.25" y2="331.60" stroke="#000" stroke-width="1.2" stroke-linecap="butt"/>
<line x1="268.10" y1="329.20" x2="272.40" y2="329.20" stroke="#000" stroke-width="1.2" stroke-linecap="butt"/>
<line x1="268.10" y1="331.60" x2="272.40" y2="331.60" stroke="#000" stroke-width="1.2" stroke-linecap="butt"/>
<circle cx="267.40" cy="329.60" r="1.9" fill="none" stroke="#ea1f27" stroke-width="1.15"/>
<circle cx="273.00" cy="328.00" r="1.9" fill="none" stroke="#ea1f27" stroke-width="1.15"/>
<circle cx="269.80" cy="332.80" r="1.9" fill="none" stroke="#ea1f27" stroke-width="1.15"/>
<circle cx="271.40" cy="332.00" r="1.9" fill="none" stroke="#ea1f27" stroke-width="1.15"/>
<circle cx="266.50" cy="331.00" r="1.9" fill="none" stroke="#ea1f27" stroke-width="1.15"/>
<circle cx="274.00" cy="330.50" r="1.9" fill="none" stroke="#ea1f27" stroke-width="1.15"/>
<line x1="252.20" y1="322.10" x2="271.80" y2="322.10" stroke="#5a5a5a" stroke-width="1.2" stroke-linecap="butt"/>
<text x="0.00" y="0.00" font-size="13.7" text-anchor="middle" fill="#1e1e1e"></text>
<text x="262.30" y="324.50" font-size="15" text-anchor="middle" fill="#1e1e1e">*</text>
<line x1="290.20" y1="320.50" x2="300.00" y2="320.50" stroke="#000" stroke-width="1.2" stroke-linecap="butt"/>
<line x1="295.15" y1="319.00" x2="295.15" y2="322.00" stroke="#000" stroke-width="1.2" stroke-linecap="butt"/>
<line x1="293.00" y1="319.00" x2="297.30" y2="319.00" stroke="#000" stroke-width="1.2" stroke-linecap="butt"/>
<line x1="293.00" y1="322.00" x2="297.30" y2="322.00" stroke="#000" stroke-width="1.2" stroke-linecap="butt"/>
<circle cx="292.70" cy="314.10" r="1.9" fill="none" stroke="#3651a8" stroke-width="1.15"/>
<circle cx="297.50" cy="315.50" r="1.9" fill="none" stroke="#3651a8" stroke-width="1.15"/>
<circle cx="291.80" cy="323.70" r="1.9" fill="none" stroke="#3651a8" stroke-width="1.15"/>
<circle cx="294.70" cy="324.00" r="1.9" fill="none" stroke="#3651a8" stroke-width="1.15"/>
<circle cx="297.50" cy="323.20" r="1.9" fill="none" stroke="#3651a8" stroke-width="1.15"/>
<circle cx="293.00" cy="320.50" r="1.9" fill="none" stroke="#3651a8" stroke-width="1.15"/>
<line x1="304.60" y1="324.40" x2="314.20" y2="324.40" stroke="#000" stroke-width="1.2" stroke-linecap="butt"/>
<line x1="309.45" y1="323.60" x2="309.45" y2="325.20" stroke="#000" stroke-width="1.2" stroke-linecap="butt"/>
<line x1="307.30" y1="323.60" x2="311.60" y2="323.60" stroke="#000" stroke-width="1.2" stroke-linecap="butt"/>
<line x1="307.30" y1="325.20" x2="311.60" y2="325.20" stroke="#000" stroke-width="1.2" stroke-linecap="butt"/>
<circle cx="306.70" cy="324.00" r="1.9" fill="none" stroke="#ea1f27" stroke-width="1.15"/>
<circle cx="309.90" cy="323.20" r="1.9" fill="none" stroke="#ea1f27" stroke-width="1.15"/>
<circle cx="312.60" cy="322.40" r="1.9" fill="none" stroke="#ea1f27" stroke-width="1.15"/>
<circle cx="308.80" cy="326.00" r="1.9" fill="none" stroke="#ea1f27" stroke-width="1.15"/>
<circle cx="311.00" cy="325.30" r="1.9" fill="none" stroke="#ea1f27" stroke-width="1.15"/>
<line x1="329.10" y1="368.90" x2="339.20" y2="368.90" stroke="#000" stroke-width="1.2" stroke-linecap="butt"/>
<line x1="334.15" y1="368.10" x2="334.15" y2="369.70" stroke="#000" stroke-width="1.2" stroke-linecap="butt"/>
<line x1="332.00" y1="368.10" x2="336.30" y2="368.10" stroke="#000" stroke-width="1.2" stroke-linecap="butt"/>
<line x1="332.00" y1="369.70" x2="336.30" y2="369.70" stroke="#000" stroke-width="1.2" stroke-linecap="butt"/>
<circle cx="331.50" cy="368.60" r="1.9" fill="none" stroke="#3651a8" stroke-width="1.15"/>
<circle cx="336.60" cy="367.30" r="1.9" fill="none" stroke="#3651a8" stroke-width="1.15"/>
<circle cx="334.40" cy="370.50" r="1.9" fill="none" stroke="#3651a8" stroke-width="1.15"/>
<circle cx="333.00" cy="369.50" r="1.9" fill="none" stroke="#3651a8" stroke-width="1.15"/>
<line x1="343.80" y1="366.50" x2="353.90" y2="366.50" stroke="#000" stroke-width="1.2" stroke-linecap="butt"/>
<line x1="348.85" y1="366.00" x2="348.85" y2="367.00" stroke="#000" stroke-width="1.2" stroke-linecap="butt"/>
<line x1="346.70" y1="366.00" x2="351.00" y2="366.00" stroke="#000" stroke-width="1.2" stroke-linecap="butt"/>
<line x1="346.70" y1="367.00" x2="351.00" y2="367.00" stroke="#000" stroke-width="1.2" stroke-linecap="butt"/>
<circle cx="346.20" cy="366.00" r="1.9" fill="none" stroke="#ea1f27" stroke-width="1.15"/>
<circle cx="349.10" cy="366.00" r="1.9" fill="none" stroke="#ea1f27" stroke-width="1.15"/>
<circle cx="351.50" cy="365.70" r="1.9" fill="none" stroke="#ea1f27" stroke-width="1.15"/>
<circle cx="348.30" cy="367.60" r="1.9" fill="none" stroke="#ea1f27" stroke-width="1.15"/>
<line x1="331.50" y1="359.80" x2="350.70" y2="359.80" stroke="#5a5a5a" stroke-width="1.2" stroke-linecap="butt"/>
<text x="0.00" y="0.00" font-size="13.7" text-anchor="middle" fill="#1e1e1e"></text>
<text x="341.10" y="362.19" font-size="15" text-anchor="middle" fill="#1e1e1e">*</text>
<text x="394.20" y="227.50" font-size="18.5" text-anchor="start" fill="#000" style="font-weight:bold">F</text>
<line x1="440.50" y1="246.20" x2="440.50" y2="383.90" stroke="#000" stroke-width="1.6" stroke-linecap="butt"/>
<line x1="435.00" y1="247.00" x2="440.50" y2="247.00" stroke="#000" stroke-width="1.6" stroke-linecap="butt"/>
<text x="433.00" y="251.90" font-size="13.7" text-anchor="end" fill="#1e1e1e">600</text>
<line x1="435.00" y1="292.40" x2="440.50" y2="292.40" stroke="#000" stroke-width="1.6" stroke-linecap="butt"/>
<text x="433.00" y="297.30" font-size="13.7" text-anchor="end" fill="#1e1e1e">400</text>
<line x1="435.00" y1="337.80" x2="440.50" y2="337.80" stroke="#000" stroke-width="1.6" stroke-linecap="butt"/>
<text x="433.00" y="342.70" font-size="13.7" text-anchor="end" fill="#1e1e1e">200</text>
<line x1="435.00" y1="383.10" x2="440.50" y2="383.10" stroke="#000" stroke-width="1.6" stroke-linecap="butt"/>
<text x="433.00" y="388.00" font-size="13.7" text-anchor="end" fill="#1e1e1e">0</text>
<line x1="439.70" y1="383.10" x2="554.50" y2="383.10" stroke="#000" stroke-width="1.6" stroke-linecap="butt"/>
<line x1="450.90" y1="383.10" x2="450.90" y2="388.10" stroke="#000" stroke-width="1.6" stroke-linecap="butt"/>
<line x1="466.00" y1="383.10" x2="466.00" y2="388.10" stroke="#000" stroke-width="1.6" stroke-linecap="butt"/>
<line x1="481.30" y1="383.10" x2="481.30" y2="388.10" stroke="#000" stroke-width="1.6" stroke-linecap="butt"/>
<line x1="496.90" y1="383.10" x2="496.90" y2="388.10" stroke="#000" stroke-width="1.6" stroke-linecap="butt"/>
<line x1="512.40" y1="383.10" x2="512.40" y2="388.10" stroke="#000" stroke-width="1.6" stroke-linecap="butt"/>
<line x1="527.80" y1="383.10" x2="527.80" y2="388.10" stroke="#000" stroke-width="1.6" stroke-linecap="butt"/>
<line x1="543.30" y1="383.10" x2="543.30" y2="388.10" stroke="#000" stroke-width="1.6" stroke-linecap="butt"/>
<text x="0" y="0" font-size="12.8" text-anchor="end" fill="#1e1e1e" transform="translate(455.40,400.00) rotate(-45)">0</text>
<text x="0" y="0" font-size="12.8" text-anchor="end" fill="#1e1e1e" transform="translate(470.50,400.00) rotate(-45)">15</text>
<text x="0" y="0" font-size="12.8" text-anchor="end" fill="#1e1e1e" transform="translate(485.80,400.00) rotate(-45)">30</text>
<text x="0" y="0" font-size="12.8" text-anchor="end" fill="#1e1e1e" transform="translate(501.40,400.00) rotate(-45)">60</text>
<text x="0" y="0" font-size="12.8" text-anchor="end" fill="#1e1e1e" transform="translate(516.90,400.00) rotate(-45)">90</text>
<text x="0" y="0" font-size="12.8" text-anchor="end" fill="#1e1e1e" transform="translate(532.30,400.00) rotate(-45)">120</text>
<text x="0" y="0" font-size="12.8" text-anchor="end" fill="#1e1e1e" transform="translate(547.80,400.00) rotate(-45)">180</text>
<text x="497.80" y="424.30" font-size="13.65" text-anchor="middle" fill="#1e1e1e">Time (minutes)</text>
<text x="402.50" y="313.70" font-size="13.4" text-anchor="middle" fill="#1e1e1e" transform="rotate(-90 402.5 313.7)">Blood glucose (mg/dL)</text>
<line x1="443.20" y1="244.80" x2="462.90" y2="244.80" stroke="#3651a8" stroke-width="1.2" stroke-linecap="butt"/>
<circle cx="453.05" cy="244.80" r="1.9" fill="none" stroke="#3651a8" stroke-width="1.15"/>
<text x="474.60" y="250.20" font-size="12.3" text-anchor="start" fill="#1e1e1e" style="font-style:italic">WT</text>
<line x1="443.20" y1="257.60" x2="462.90" y2="257.60" stroke="#ea1f27" stroke-width="1.2" stroke-linecap="butt"/>
<circle cx="453.05" cy="257.60" r="1.9" fill="none" stroke="#ea1f27" stroke-width="1.15"/>
<text x="474.60" y="263.00" font-size="12.3" text-anchor="start" fill="#1e1e1e" style="font-style:italic">UKO</text>
<text x="516.80" y="256.00" font-size="12.35" text-anchor="start" fill="#1e1e1e">GTT</text>
<text x="442.40" y="378.60" font-size="12.35" text-anchor="start" fill="#1e1e1e">Male: HFD - 4 weeks</text>
<polyline points="450.90,356.50 466.00,304.60 481.30,298.50 496.90,316.90 512.40,336.60 527.80,351.30 543.30,361.80" fill="none" stroke="#3651a8" stroke-width="1.2" stroke-linejoin="round"/>
<line x1="466.00" y1="299.70" x2="466.00" y2="310.00" stroke="#3651a8" stroke-width="1.1" stroke-linecap="butt"/>
<line x1="463.80" y1="299.70" x2="468.20" y2="299.70" stroke="#3651a8" stroke-width="1.1" stroke-linecap="butt"/>
<line x1="463.80" y1="310.00" x2="468.20" y2="310.00" stroke="#3651a8" stroke-width="1.1" stroke-linecap="butt"/>
<line x1="481.30" y1="294.00" x2="481.30" y2="302.50" stroke="#3651a8" stroke-width="1.1" stroke-linecap="butt"/>
<line x1="479.10" y1="294.00" x2="483.50" y2="294.00" stroke="#3651a8" stroke-width="1.1" stroke-linecap="butt"/>
<line x1="479.10" y1="302.50" x2="483.50" y2="302.50" stroke="#3651a8" stroke-width="1.1" stroke-linecap="butt"/>
<line x1="496.90" y1="311.00" x2="496.90" y2="324.10" stroke="#3651a8" stroke-width="1.1" stroke-linecap="butt"/>
<line x1="494.70" y1="311.00" x2="499.10" y2="311.00" stroke="#3651a8" stroke-width="1.1" stroke-linecap="butt"/>
<line x1="494.70" y1="324.10" x2="499.10" y2="324.10" stroke="#3651a8" stroke-width="1.1" stroke-linecap="butt"/>
<line x1="512.40" y1="334.00" x2="512.40" y2="338.80" stroke="#3651a8" stroke-width="1.1" stroke-linecap="butt"/>
<line x1="510.20" y1="334.00" x2="514.60" y2="334.00" stroke="#3651a8" stroke-width="1.1" stroke-linecap="butt"/>
<line x1="510.20" y1="338.80" x2="514.60" y2="338.80" stroke="#3651a8" stroke-width="1.1" stroke-linecap="butt"/>
<circle cx="450.90" cy="356.50" r="1.9" fill="none" stroke="#3651a8" stroke-width="1.15"/>
<circle cx="466.00" cy="304.60" r="1.9" fill="none" stroke="#3651a8" stroke-width="1.15"/>
<circle cx="481.30" cy="298.50" r="1.9" fill="none" stroke="#3651a8" stroke-width="1.15"/>
<circle cx="496.90" cy="316.90" r="1.9" fill="none" stroke="#3651a8" stroke-width="1.15"/>
<circle cx="512.40" cy="336.60" r="1.9" fill="none" stroke="#3651a8" stroke-width="1.15"/>
<circle cx="527.80" cy="351.30" r="1.9" fill="none" stroke="#3651a8" stroke-width="1.15"/>
<circle cx="543.30" cy="361.80" r="1.9" fill="none" stroke="#3651a8" stroke-width="1.15"/>
<polyline points="450.90,348.50 466.00,294.50 481.30,275.20 496.90,278.00 512.40,293.20 527.80,311.00 543.30,347.80" fill="none" stroke="#ea1f27" stroke-width="1.2" stroke-linejoin="round"/>
<line x1="450.90" y1="345.70" x2="450.90" y2="351.30" stroke="#ea1f27" stroke-width="1.1" stroke-linecap="butt"/>
<line x1="448.70" y1="345.70" x2="453.10" y2="345.70" stroke="#ea1f27" stroke-width="1.1" stroke-linecap="butt"/>
<line x1="448.70" y1="351.30" x2="453.10" y2="351.30" stroke="#ea1f27" stroke-width="1.1" stroke-linecap="butt"/>
<line x1="466.00" y1="288.50" x2="466.00" y2="298.50" stroke="#ea1f27" stroke-width="1.1" stroke-linecap="butt"/>
<line x1="463.80" y1="288.50" x2="468.20" y2="288.50" stroke="#ea1f27" stroke-width="1.1" stroke-linecap="butt"/>
<line x1="463.80" y1="298.50" x2="468.20" y2="298.50" stroke="#ea1f27" stroke-width="1.1" stroke-linecap="butt"/>
<line x1="481.30" y1="269.30" x2="481.30" y2="281.30" stroke="#ea1f27" stroke-width="1.1" stroke-linecap="butt"/>
<line x1="479.10" y1="269.30" x2="483.50" y2="269.30" stroke="#ea1f27" stroke-width="1.1" stroke-linecap="butt"/>
<line x1="479.10" y1="281.30" x2="483.50" y2="281.30" stroke="#ea1f27" stroke-width="1.1" stroke-linecap="butt"/>
<line x1="496.90" y1="270.40" x2="496.90" y2="286.40" stroke="#ea1f27" stroke-width="1.1" stroke-linecap="butt"/>
<line x1="494.70" y1="270.40" x2="499.10" y2="270.40" stroke="#ea1f27" stroke-width="1.1" stroke-linecap="butt"/>
<line x1="494.70" y1="286.40" x2="499.10" y2="286.40" stroke="#ea1f27" stroke-width="1.1" stroke-linecap="butt"/>
<line x1="512.40" y1="287.60" x2="512.40" y2="299.30" stroke="#ea1f27" stroke-width="1.1" stroke-linecap="butt"/>
<line x1="510.20" y1="287.60" x2="514.60" y2="287.60" stroke="#ea1f27" stroke-width="1.1" stroke-linecap="butt"/>
<line x1="510.20" y1="299.30" x2="514.60" y2="299.30" stroke="#ea1f27" stroke-width="1.1" stroke-linecap="butt"/>
<line x1="527.80" y1="301.70" x2="527.80" y2="319.60" stroke="#ea1f27" stroke-width="1.1" stroke-linecap="butt"/>
<line x1="525.60" y1="301.70" x2="530.00" y2="301.70" stroke="#ea1f27" stroke-width="1.1" stroke-linecap="butt"/>
<line x1="525.60" y1="319.60" x2="530.00" y2="319.60" stroke="#ea1f27" stroke-width="1.1" stroke-linecap="butt"/>
<circle cx="450.90" cy="348.50" r="1.9" fill="none" stroke="#ea1f27" stroke-width="1.15"/>
<circle cx="466.00" cy="294.50" r="1.9" fill="none" stroke="#ea1f27" stroke-width="1.15"/>
<circle cx="481.30" cy="275.20" r="1.9" fill="none" stroke="#ea1f27" stroke-width="1.15"/>
<circle cx="496.90" cy="278.00" r="1.9" fill="none" stroke="#ea1f27" stroke-width="1.15"/>
<circle cx="512.40" cy="293.20" r="1.9" fill="none" stroke="#ea1f27" stroke-width="1.15"/>
<circle cx="527.80" cy="311.00" r="1.9" fill="none" stroke="#ea1f27" stroke-width="1.15"/>
<circle cx="543.30" cy="347.80" r="1.9" fill="none" stroke="#ea1f27" stroke-width="1.15"/>
<text x="481.30" y="317.89" font-size="15" text-anchor="middle" fill="#1e1e1e">*</text>
<line x1="492.00" y1="357.30" x2="531.30" y2="357.30" stroke="#222" stroke-width="1.2" stroke-linecap="butt"/>
<text x="0.00" y="0.00" font-size="13.7" text-anchor="middle" fill="#1e1e1e"></text>
<text x="512.40" y="370.00" font-size="15" text-anchor="middle" fill="#1e1e1e">****</text>
<text x="610.40" y="227.70" font-size="18.5" text-anchor="start" fill="#000" style="font-weight:bold">G</text>
<line x1="678.20" y1="244.30" x2="678.20" y2="382.60" stroke="#000" stroke-width="1.6" stroke-linecap="butt"/>
<line x1="672.70" y1="245.10" x2="678.20" y2="245.10" stroke="#000" stroke-width="1.6" stroke-linecap="butt"/>
<text x="670.70" y="250.00" font-size="13.7" text-anchor="end" fill="#1e1e1e">60000</text>
<line x1="672.70" y1="290.50" x2="678.20" y2="290.50" stroke="#000" stroke-width="1.6" stroke-linecap="butt"/>
<text x="670.70" y="295.40" font-size="13.7" text-anchor="end" fill="#1e1e1e">40000</text>
<line x1="672.70" y1="335.90" x2="678.20" y2="335.90" stroke="#000" stroke-width="1.6" stroke-linecap="butt"/>
<text x="670.70" y="340.80" font-size="13.7" text-anchor="end" fill="#1e1e1e">20000</text>
<line x1="672.70" y1="381.80" x2="678.20" y2="381.80" stroke="#000" stroke-width="1.6" stroke-linecap="butt"/>
<text x="670.70" y="386.70" font-size="13.7" text-anchor="end" fill="#1e1e1e">0</text>
<line x1="677.40" y1="381.80" x2="746.90" y2="381.80" stroke="#000" stroke-width="1.6" stroke-linecap="butt"/>
<line x1="697.90" y1="381.80" x2="697.90" y2="386.80" stroke="#000" stroke-width="1.6" stroke-linecap="butt"/>
<line x1="726.50" y1="381.80" x2="726.50" y2="386.80" stroke="#000" stroke-width="1.6" stroke-linecap="butt"/>
<text x="697.90" y="399.70" font-size="13.6" text-anchor="middle" fill="#1e1e1e" style="font-style:italic">WT</text>
<text x="726.50" y="399.70" font-size="13.6" text-anchor="middle" fill="#1e1e1e" style="font-style:italic">UKO</text>
<text x="625.00" y="310.80" font-size="13.6" text-anchor="middle" fill="#1e1e1e" transform="rotate(-90 625.0 310.8)">AUC GTT (% initial)</text>
<text x="680.40" y="376.60" font-size="12.35" text-anchor="start" fill="#1e1e1e">Male: HFD</text>
<line x1="697.00" y1="260.80" x2="725.90" y2="260.80" stroke="#5a5a5a" stroke-width="1.2" stroke-linecap="butt"/>
<text x="0.00" y="0.00" font-size="13.7" text-anchor="middle" fill="#1e1e1e"></text>
<text x="711.10" y="262.89" font-size="15" text-anchor="middle" fill="#1e1e1e">**</text>
<line x1="687.90" y1="307.30" x2="707.40" y2="307.30" stroke="#000" stroke-width="1.2" stroke-linecap="butt"/>
<line x1="697.65" y1="303.30" x2="697.65" y2="310.90" stroke="#000" stroke-width="1.2" stroke-linecap="butt"/>
<line x1="693.00" y1="303.30" x2="702.30" y2="303.30" stroke="#000" stroke-width="1.2" stroke-linecap="butt"/>
<line x1="693.00" y1="310.90" x2="702.30" y2="310.90" stroke="#000" stroke-width="1.2" stroke-linecap="butt"/>
<circle cx="697.60" cy="284.30" r="1.9" fill="none" stroke="#3651a8" stroke-width="1.15"/>
<circle cx="697.60" cy="300.50" r="1.9" fill="none" stroke="#3651a8" stroke-width="1.15"/>
<circle cx="690.40" cy="304.70" r="1.9" fill="none" stroke="#3651a8" stroke-width="1.15"/>
<circle cx="704.90" cy="304.00" r="1.9" fill="none" stroke="#3651a8" stroke-width="1.15"/>
<circle cx="694.80" cy="307.00" r="1.9" fill="none" stroke="#3651a8" stroke-width="1.15"/>
<circle cx="699.90" cy="306.50" r="1.9" fill="none" stroke="#3651a8" stroke-width="1.15"/>
<circle cx="697.60" cy="314.60" r="1.9" fill="none" stroke="#3651a8" stroke-width="1.15"/>
<circle cx="694.80" cy="321.80" r="1.9" fill="none" stroke="#3651a8" stroke-width="1.15"/>
<circle cx="700.40" cy="320.20" r="1.9" fill="none" stroke="#3651a8" stroke-width="1.15"/>
<line x1="717.10" y1="287.50" x2="736.60" y2="287.50" stroke="#000" stroke-width="1.2" stroke-linecap="butt"/>
<line x1="726.85" y1="283.40" x2="726.85" y2="291.20" stroke="#000" stroke-width="1.2" stroke-linecap="butt"/>
<line x1="722.20" y1="283.40" x2="731.50" y2="283.40" stroke="#000" stroke-width="1.2" stroke-linecap="butt"/>
<line x1="722.20" y1="291.20" x2="731.50" y2="291.20" stroke="#000" stroke-width="1.2" stroke-linecap="butt"/>
<circle cx="726.80" cy="268.30" r="1.9" fill="none" stroke="#ea1f27" stroke-width="1.15"/>
<circle cx="726.80" cy="276.00" r="1.9" fill="none" stroke="#ea1f27" stroke-width="1.15"/>
<circle cx="726.80" cy="282.90" r="1.9" fill="none" stroke="#ea1f27" stroke-width="1.15"/>
<circle cx="719.40" cy="287.50" r="1.9" fill="none" stroke="#ea1f27" stroke-width="1.15"/>
<circle cx="734.10" cy="287.80" r="1.9" fill="none" stroke="#ea1f27" stroke-width="1.15"/>
<circle cx="724.30" cy="291.70" r="1.9" fill="none" stroke="#ea1f27" stroke-width="1.15"/>
<circle cx="729.20" cy="291.70" r="1.9" fill="none" stroke="#ea1f27" stroke-width="1.15"/>
<circle cx="724.10" cy="300.80" r="1.9" fill="none" stroke="#ea1f27" stroke-width="1.15"/>
<circle cx="729.60" cy="299.10" r="1.9" fill="none" stroke="#ea1f27" stroke-width="1.15"/>
<text x="3.20" y="456.60" font-size="18.5" text-anchor="start" fill="#000" style="font-weight:bold">H</text>
<line x1="43.00" y1="471.10" x2="43.00" y2="608.90" stroke="#000" stroke-width="1.6" stroke-linecap="butt"/>
<line x1="37.50" y1="471.90" x2="43.00" y2="471.90" stroke="#000" stroke-width="1.6" stroke-linecap="butt"/>
<text x="35.50" y="476.80" font-size="13.7" text-anchor="end" fill="#1e1e1e">16</text>
<line x1="37.50" y1="506.00" x2="43.00" y2="506.00" stroke="#000" stroke-width="1.6" stroke-linecap="butt"/>
<text x="35.50" y="510.90" font-size="13.7" text-anchor="end" fill="#1e1e1e">12</text>
<line x1="37.50" y1="540.10" x2="43.00" y2="540.10" stroke="#000" stroke-width="1.6" stroke-linecap="butt"/>
<text x="35.50" y="545.00" font-size="13.7" text-anchor="end" fill="#1e1e1e">8</text>
<line x1="37.50" y1="574.10" x2="43.00" y2="574.10" stroke="#000" stroke-width="1.6" stroke-linecap="butt"/>
<text x="35.50" y="579.00" font-size="13.7" text-anchor="end" fill="#1e1e1e">4</text>
<line x1="37.50" y1="608.10" x2="43.00" y2="608.10" stroke="#000" stroke-width="1.6" stroke-linecap="butt"/>
<text x="35.50" y="613.00" font-size="13.7" text-anchor="end" fill="#1e1e1e">0</text>
<line x1="42.20" y1="608.10" x2="111.20" y2="608.10" stroke="#000" stroke-width="1.6" stroke-linecap="butt"/>
<line x1="62.10" y1="608.10" x2="62.10" y2="613.10" stroke="#000" stroke-width="1.6" stroke-linecap="butt"/>
<line x1="91.10" y1="608.10" x2="91.10" y2="613.10" stroke="#000" stroke-width="1.6" stroke-linecap="butt"/>
<text x="62.60" y="627.20" font-size="13.6" text-anchor="middle" fill="#1e1e1e" style="font-style:italic">WT</text>
<text x="91.60" y="627.20" font-size="13.6" text-anchor="middle" fill="#1e1e1e" style="font-style:italic">UKO</text>
<text x="11.90" y="538.30" font-size="13.6" text-anchor="middle" fill="#1e1e1e" transform="rotate(-90 11.9 538.3)">Serum insulin (ng/ml)</text>
<text x="45.30" y="477.00" font-size="12.35" text-anchor="start" fill="#1e1e1e">Male, HFD</text>
<text x="45.30" y="492.20" font-size="12.35" text-anchor="start" fill="#1e1e1e">10 weeks</text>
<line x1="57.10" y1="504.00" x2="89.70" y2="504.00" stroke="#222" stroke-width="1.2" stroke-linecap="butt"/>
<text x="0.00" y="0.00" font-size="13.7" text-anchor="middle" fill="#1e1e1e"></text>
<text x="71.90" y="505.79" font-size="15" text-anchor="middle" fill="#1e1e1e">***</text>
<line x1="52.50" y1="577.30" x2="71.70" y2="577.30" stroke="#000" stroke-width="1.2" stroke-linecap="butt"/>
<line x1="62.00" y1="573.70" x2="62.00" y2="581.50" stroke="#000" stroke-width="1.2" stroke-linecap="butt"/>
<line x1="58.00" y1="573.70" x2="66.00" y2="573.70" stroke="#000" stroke-width="1.2" stroke-linecap="butt"/>
<line x1="58.00" y1="581.50" x2="66.00" y2="581.50" stroke="#000" stroke-width="1.2" stroke-linecap="butt"/>
<circle cx="62.10" cy="564.10" r="1.9" fill="none" stroke="#3651a8" stroke-width="1.15"/>
<circle cx="59.10" cy="571.50" r="1.9" fill="none" stroke="#3651a8" stroke-width="1.15"/>
<circle cx="64.70" cy="571.10" r="1.9" fill="none" stroke="#3651a8" stroke-width="1.15"/>
<circle cx="62.10" cy="581.70" r="1.9" fill="none" stroke="#3651a8" stroke-width="1.15"/>
<circle cx="59.50" cy="588.10" r="1.9" fill="none" stroke="#3651a8" stroke-width="1.15"/>
<circle cx="64.70" cy="586.70" r="1.9" fill="none" stroke="#3651a8" stroke-width="1.15"/>
<line x1="81.70" y1="533.00" x2="100.70" y2="533.00" stroke="#000" stroke-width="1.2" stroke-linecap="butt"/>
<line x1="91.10" y1="526.40" x2="91.10" y2="539.60" stroke="#000" stroke-width="1.2" stroke-linecap="butt"/>
<line x1="86.50" y1="526.40" x2="95.70" y2="526.40" stroke="#000" stroke-width="1.2" stroke-linecap="butt"/>
<line x1="86.50" y1="539.60" x2="95.70" y2="539.60" stroke="#000" stroke-width="1.2" stroke-linecap="butt"/>
<circle cx="91.10" cy="509.00" r="1.9" fill="none" stroke="#ea1f27" stroke-width="1.15"/>
<circle cx="88.50" cy="523.60" r="1.9" fill="none" stroke="#ea1f27" stroke-width="1.15"/>
<circle cx="93.70" cy="529.00" r="1.9" fill="none" stroke="#ea1f27" stroke-width="1.15"/>
<circle cx="91.10" cy="535.60" r="1.9" fill="none" stroke="#ea1f27" stroke-width="1.15"/>
<circle cx="91.10" cy="548.10" r="1.9" fill="none" stroke="#ea1f27" stroke-width="1.15"/>
<circle cx="91.10" cy="554.10" r="1.9" fill="none" stroke="#ea1f27" stroke-width="1.15"/>
<text x="172.60" y="456.60" font-size="18.5" text-anchor="start" fill="#000" style="font-weight:bold">I</text>
<line x1="213.80" y1="473.20" x2="213.80" y2="610.50" stroke="#000" stroke-width="1.6" stroke-linecap="butt"/>
<line x1="208.30" y1="474.00" x2="213.80" y2="474.00" stroke="#000" stroke-width="1.6" stroke-linecap="butt"/>
<text x="206.30" y="478.90" font-size="13.7" text-anchor="end" fill="#1e1e1e">150</text>
<line x1="208.30" y1="507.90" x2="213.80" y2="507.90" stroke="#000" stroke-width="1.6" stroke-linecap="butt"/>
<text x="206.30" y="512.80" font-size="13.7" text-anchor="end" fill="#1e1e1e">125</text>
<line x1="208.30" y1="541.70" x2="213.80" y2="541.70" stroke="#000" stroke-width="1.6" stroke-linecap="butt"/>
<text x="206.30" y="546.60" font-size="13.7" text-anchor="end" fill="#1e1e1e">100</text>
<line x1="208.30" y1="575.60" x2="213.80" y2="575.60" stroke="#000" stroke-width="1.6" stroke-linecap="butt"/>
<text x="206.30" y="580.50" font-size="13.7" text-anchor="end" fill="#1e1e1e">75</text>
<line x1="208.30" y1="609.70" x2="213.80" y2="609.70" stroke="#000" stroke-width="1.6" stroke-linecap="butt"/>
<text x="206.30" y="614.60" font-size="13.7" text-anchor="end" fill="#1e1e1e">50</text>
<line x1="213.00" y1="609.70" x2="327.30" y2="609.70" stroke="#000" stroke-width="1.6" stroke-linecap="butt"/>
<line x1="225.90" y1="609.70" x2="225.90" y2="614.70" stroke="#000" stroke-width="1.6" stroke-linecap="butt"/>
<line x1="243.70" y1="609.70" x2="243.70" y2="614.70" stroke="#000" stroke-width="1.6" stroke-linecap="butt"/>
<line x1="261.70" y1="609.70" x2="261.70" y2="614.70" stroke="#000" stroke-width="1.6" stroke-linecap="butt"/>
<line x1="279.60" y1="609.70" x2="279.60" y2="614.70" stroke="#000" stroke-width="1.6" stroke-linecap="butt"/>
<line x1="297.40" y1="609.70" x2="297.40" y2="614.70" stroke="#000" stroke-width="1.6" stroke-linecap="butt"/>
<line x1="315.30" y1="609.70" x2="315.30" y2="614.70" stroke="#000" stroke-width="1.6" stroke-linecap="butt"/>
<text x="0" y="0" font-size="12.8" text-anchor="end" fill="#1e1e1e" transform="translate(230.40,626.50) rotate(-45)">0</text>
<text x="0" y="0" font-size="12.8" text-anchor="end" fill="#1e1e1e" transform="translate(248.20,626.50) rotate(-45)">15</text>
<text x="0" y="0" font-size="12.8" text-anchor="end" fill="#1e1e1e" transform="translate(266.20,626.50) rotate(-45)">30</text>
<text x="0" y="0" font-size="12.8" text-anchor="end" fill="#1e1e1e" transform="translate(284.10,626.50) rotate(-45)">60</text>
<text x="0" y="0" font-size="12.8" text-anchor="end" fill="#1e1e1e" transform="translate(301.90,626.50) rotate(-45)">90</text>
<text x="0" y="0" font-size="12.8" text-anchor="end" fill="#1e1e1e" transform="translate(319.80,626.50) rotate(-45)">120</text>
<text x="271.80" y="651.90" font-size="13.65" text-anchor="middle" fill="#1e1e1e">Time (minutes)</text>
<text x="177.40" y="535.80" font-size="13.0" text-anchor="middle" fill="#1e1e1e" transform="rotate(-90 177.4 535.8)">Blood glucose (% initial)</text>
<line x1="217.00" y1="474.20" x2="236.50" y2="474.20" stroke="#3651a8" stroke-width="1.2" stroke-linecap="butt"/>
<circle cx="226.75" cy="474.20" r="1.9" fill="none" stroke="#3651a8" stroke-width="1.15"/>
<text x="248.10" y="478.60" font-size="12.3" text-anchor="start" fill="#1e1e1e" style="font-style:italic">WT</text>
<line x1="217.00" y1="486.70" x2="236.50" y2="486.70" stroke="#ea1f27" stroke-width="1.2" stroke-linecap="butt"/>
<circle cx="226.75" cy="486.70" r="1.9" fill="none" stroke="#ea1f27" stroke-width="1.15"/>
<text x="248.10" y="491.20" font-size="12.3" text-anchor="start" fill="#1e1e1e" style="font-style:italic">UKO</text>
<text x="292.40" y="483.70" font-size="12.35" text-anchor="start" fill="#1e1e1e">ITT</text>
<text x="216.00" y="604.60" font-size="12.35" text-anchor="start" fill="#1e1e1e">Male: HFD - 6 weeks</text>
<polyline points="225.90,541.70 243.70,554.90 261.70,553.30 279.60,562.10 297.40,557.60 315.30,569.00" fill="none" stroke="#3651a8" stroke-width="1.2" stroke-linejoin="round"/>
<line x1="243.70" y1="551.30" x2="243.70" y2="558.10" stroke="#3651a8" stroke-width="1.1" stroke-linecap="butt"/>
<line x1="241.50" y1="551.30" x2="245.90" y2="551.30" stroke="#3651a8" stroke-width="1.1" stroke-linecap="butt"/>
<line x1="241.50" y1="558.10" x2="245.90" y2="558.10" stroke="#3651a8" stroke-width="1.1" stroke-linecap="butt"/>
<line x1="261.70" y1="549.30" x2="261.70" y2="557.30" stroke="#3651a8" stroke-width="1.1" stroke-linecap="butt"/>
<line x1="259.50" y1="549.30" x2="263.90" y2="549.30" stroke="#3651a8" stroke-width="1.1" stroke-linecap="butt"/>
<line x1="259.50" y1="557.30" x2="263.90" y2="557.30" stroke="#3651a8" stroke-width="1.1" stroke-linecap="butt"/>
<line x1="279.60" y1="556.50" x2="279.60" y2="568.00" stroke="#3651a8" stroke-width="1.1" stroke-linecap="butt"/>
<line x1="277.40" y1="556.50" x2="281.80" y2="556.50" stroke="#3651a8" stroke-width="1.1" stroke-linecap="butt"/>
<line x1="277.40" y1="568.00" x2="281.80" y2="568.00" stroke="#3651a8" stroke-width="1.1" stroke-linecap="butt"/>
<line x1="297.40" y1="550.90" x2="297.40" y2="564.20" stroke="#3651a8" stroke-width="1.1" stroke-linecap="butt"/>
<line x1="295.20" y1="550.90" x2="299.60" y2="550.90" stroke="#3651a8" stroke-width="1.1" stroke-linecap="butt"/>
<line x1="295.20" y1="564.20" x2="299.60" y2="564.20" stroke="#3651a8" stroke-width="1.1" stroke-linecap="butt"/>
<line x1="315.30" y1="562.90" x2="315.30" y2="574.90" stroke="#3651a8" stroke-width="1.1" stroke-linecap="butt"/>
<line x1="313.10" y1="562.90" x2="317.50" y2="562.90" stroke="#3651a8" stroke-width="1.1" stroke-linecap="butt"/>
<line x1="313.10" y1="574.90" x2="317.50" y2="574.90" stroke="#3651a8" stroke-width="1.1" stroke-linecap="butt"/>
<circle cx="225.90" cy="541.70" r="1.9" fill="none" stroke="#3651a8" stroke-width="1.15"/>
<circle cx="243.70" cy="554.90" r="1.9" fill="none" stroke="#3651a8" stroke-width="1.15"/>
<circle cx="261.70" cy="553.30" r="1.9" fill="none" stroke="#3651a8" stroke-width="1.15"/>
<circle cx="279.60" cy="562.10" r="1.9" fill="none" stroke="#3651a8" stroke-width="1.15"/>
<circle cx="297.40" cy="557.60" r="1.9" fill="none" stroke="#3651a8" stroke-width="1.15"/>
<circle cx="315.30" cy="569.00" r="1.9" fill="none" stroke="#3651a8" stroke-width="1.15"/>
<polyline points="225.90,541.70 243.70,528.40 261.70,528.90 279.60,525.20 297.40,528.00 315.30,543.70" fill="none" stroke="#ea1f27" stroke-width="1.2" stroke-linejoin="round"/>
<line x1="243.70" y1="522.80" x2="243.70" y2="534.40" stroke="#ea1f27" stroke-width="1.1" stroke-linecap="butt"/>
<line x1="241.50" y1="522.80" x2="245.90" y2="522.80" stroke="#ea1f27" stroke-width="1.1" stroke-linecap="butt"/>
<line x1="241.50" y1="534.40" x2="245.90" y2="534.40" stroke="#ea1f27" stroke-width="1.1" stroke-linecap="butt"/>
<line x1="261.70" y1="523.60" x2="261.70" y2="534.40" stroke="#ea1f27" stroke-width="1.1" stroke-linecap="butt"/>
<line x1="259.50" y1="523.60" x2="263.90" y2="523.60" stroke="#ea1f27" stroke-width="1.1" stroke-linecap="butt"/>
<line x1="259.50" y1="534.40" x2="263.90" y2="534.40" stroke="#ea1f27" stroke-width="1.1" stroke-linecap="butt"/>
<line x1="279.60" y1="517.20" x2="279.60" y2="533.20" stroke="#ea1f27" stroke-width="1.1" stroke-linecap="butt"/>
<line x1="277.40" y1="517.20" x2="281.80" y2="517.20" stroke="#ea1f27" stroke-width="1.1" stroke-linecap="butt"/>
<line x1="277.40" y1="533.20" x2="281.80" y2="533.20" stroke="#ea1f27" stroke-width="1.1" stroke-linecap="butt"/>
<line x1="297.40" y1="519.30" x2="297.40" y2="536.90" stroke="#ea1f27" stroke-width="1.1" stroke-linecap="butt"/>
<line x1="295.20" y1="519.30" x2="299.60" y2="519.30" stroke="#ea1f27" stroke-width="1.1" stroke-linecap="butt"/>
<line x1="295.20" y1="536.90" x2="299.60" y2="536.90" stroke="#ea1f27" stroke-width="1.1" stroke-linecap="butt"/>
<line x1="315.30" y1="540.40" x2="315.30" y2="547.20" stroke="#ea1f27" stroke-width="1.1" stroke-linecap="butt"/>
<line x1="313.10" y1="540.40" x2="317.50" y2="540.40" stroke="#ea1f27" stroke-width="1.1" stroke-linecap="butt"/>
<line x1="313.10" y1="547.20" x2="317.50" y2="547.20" stroke="#ea1f27" stroke-width="1.1" stroke-linecap="butt"/>
<circle cx="225.90" cy="541.70" r="1.9" fill="none" stroke="#ea1f27" stroke-width="1.15"/>
<circle cx="243.70" cy="528.40" r="1.9" fill="none" stroke="#ea1f27" stroke-width="1.15"/>
<circle cx="261.70" cy="528.90" r="1.9" fill="none" stroke="#ea1f27" stroke-width="1.15"/>
<circle cx="279.60" cy="525.20" r="1.9" fill="none" stroke="#ea1f27" stroke-width="1.15"/>
<circle cx="297.40" cy="528.00" r="1.9" fill="none" stroke="#ea1f27" stroke-width="1.15"/>
<circle cx="315.30" cy="543.70" r="1.9" fill="none" stroke="#ea1f27" stroke-width="1.15"/>
<text x="243.20" y="571.40" font-size="15" text-anchor="middle" fill="#1e1e1e">**</text>
<text x="261.70" y="571.40" font-size="15" text-anchor="middle" fill="#1e1e1e">*</text>
<text x="278.00" y="582.60" font-size="15" text-anchor="middle" fill="#1e1e1e">****</text>
<text x="297.70" y="577.80" font-size="15" text-anchor="middle" fill="#1e1e1e">**</text>
<text x="315.30" y="588.20" font-size="15" text-anchor="middle" fill="#1e1e1e">*</text>
<text x="383.40" y="456.60" font-size="18.5" text-anchor="start" fill="#000" style="font-weight:bold">J</text>
<line x1="448.60" y1="471.50" x2="448.60" y2="609.40" stroke="#000" stroke-width="1.6" stroke-linecap="butt"/>
<line x1="443.10" y1="472.30" x2="448.60" y2="472.30" stroke="#000" stroke-width="1.6" stroke-linecap="butt"/>
<text x="441.10" y="477.20" font-size="13.7" text-anchor="end" fill="#1e1e1e">16000</text>
<line x1="443.10" y1="506.40" x2="448.60" y2="506.40" stroke="#000" stroke-width="1.6" stroke-linecap="butt"/>
<text x="441.10" y="511.30" font-size="13.7" text-anchor="end" fill="#1e1e1e">12000</text>
<line x1="443.10" y1="540.50" x2="448.60" y2="540.50" stroke="#000" stroke-width="1.6" stroke-linecap="butt"/>
<text x="441.10" y="545.40" font-size="13.7" text-anchor="end" fill="#1e1e1e">8000</text>
<line x1="443.10" y1="574.60" x2="448.60" y2="574.60" stroke="#000" stroke-width="1.6" stroke-linecap="butt"/>
<text x="441.10" y="579.50" font-size="13.7" text-anchor="end" fill="#1e1e1e">4000</text>
<line x1="443.10" y1="608.60" x2="448.60" y2="608.60" stroke="#000" stroke-width="1.6" stroke-linecap="butt"/>
<text x="441.10" y="613.50" font-size="13.7" text-anchor="end" fill="#1e1e1e">0</text>
<line x1="447.80" y1="608.60" x2="516.90" y2="608.60" stroke="#000" stroke-width="1.6" stroke-linecap="butt"/>
<line x1="467.90" y1="608.60" x2="467.90" y2="613.60" stroke="#000" stroke-width="1.6" stroke-linecap="butt"/>
<line x1="497.40" y1="608.60" x2="497.40" y2="613.60" stroke="#000" stroke-width="1.6" stroke-linecap="butt"/>
<text x="468.40" y="627.50" font-size="13.6" text-anchor="middle" fill="#1e1e1e" style="font-style:italic">WT</text>
<text x="497.90" y="627.50" font-size="13.6" text-anchor="middle" fill="#1e1e1e" style="font-style:italic">UKO</text>
<text x="397.90" y="538.30" font-size="13.4" text-anchor="middle" fill="#1e1e1e" transform="rotate(-90 397.9 538.3)">AUC ITT (% initial)</text>
<text x="452.00" y="604.70" font-size="12.35" text-anchor="start" fill="#1e1e1e">Male: HFD</text>
<line x1="462.40" y1="476.40" x2="496.40" y2="476.40" stroke="#333" stroke-width="1.2" stroke-linecap="butt"/>
<text x="0.00" y="0.00" font-size="13.7" text-anchor="middle" fill="#1e1e1e"></text>
<text x="478.00" y="478.29" font-size="15" text-anchor="middle" fill="#1e1e1e">**</text>
<line x1="458.70" y1="519.00" x2="477.80" y2="519.00" stroke="#000" stroke-width="1.2" stroke-linecap="butt"/>
<line x1="468.25" y1="515.50" x2="468.25" y2="522.30" stroke="#000" stroke-width="1.2" stroke-linecap="butt"/>
<line x1="463.60" y1="515.50" x2="472.90" y2="515.50" stroke="#000" stroke-width="1.2" stroke-linecap="butt"/>
<line x1="463.60" y1="522.30" x2="472.90" y2="522.30" stroke="#000" stroke-width="1.2" stroke-linecap="butt"/>
<circle cx="468.20" cy="498.50" r="1.9" fill="none" stroke="#3651a8" stroke-width="1.15"/>
<circle cx="465.40" cy="513.90" r="1.9" fill="none" stroke="#3651a8" stroke-width="1.15"/>
<circle cx="471.00" cy="513.10" r="1.9" fill="none" stroke="#3651a8" stroke-width="1.15"/>
<circle cx="468.20" cy="519.70" r="1.9" fill="none" stroke="#3651a8" stroke-width="1.15"/>
<circle cx="461.00" cy="526.20" r="1.9" fill="none" stroke="#3651a8" stroke-width="1.15"/>
<circle cx="465.90" cy="529.00" r="1.9" fill="none" stroke="#3651a8" stroke-width="1.15"/>
<circle cx="470.70" cy="526.90" r="1.9" fill="none" stroke="#3651a8" stroke-width="1.15"/>
<circle cx="475.70" cy="524.30" r="1.9" fill="none" stroke="#3651a8" stroke-width="1.15"/>
<line x1="487.90" y1="498.20" x2="506.70" y2="498.20" stroke="#000" stroke-width="1.2" stroke-linecap="butt"/>
<line x1="497.35" y1="494.20" x2="497.35" y2="502.20" stroke="#000" stroke-width="1.2" stroke-linecap="butt"/>
<line x1="492.80" y1="494.20" x2="501.90" y2="494.20" stroke="#000" stroke-width="1.2" stroke-linecap="butt"/>
<line x1="492.80" y1="502.20" x2="501.90" y2="502.20" stroke="#000" stroke-width="1.2" stroke-linecap="butt"/>
<circle cx="497.40" cy="480.90" r="1.9" fill="none" stroke="#ea1f27" stroke-width="1.15"/>
<circle cx="494.60" cy="487.20" r="1.9" fill="none" stroke="#ea1f27" stroke-width="1.15"/>
<circle cx="500.20" cy="490.00" r="1.9" fill="none" stroke="#ea1f27" stroke-width="1.15"/>
<circle cx="497.40" cy="496.80" r="1.9" fill="none" stroke="#ea1f27" stroke-width="1.15"/>
<circle cx="491.80" cy="504.70" r="1.9" fill="none" stroke="#ea1f27" stroke-width="1.15"/>
<circle cx="502.80" cy="503.80" r="1.9" fill="none" stroke="#ea1f27" stroke-width="1.15"/>
<circle cx="497.40" cy="507.10" r="1.9" fill="none" stroke="#ea1f27" stroke-width="1.15"/>
<circle cx="497.40" cy="514.70" r="1.9" fill="none" stroke="#ea1f27" stroke-width="1.15"/>
<text x="584.00" y="456.60" font-size="18.5" text-anchor="start" fill="#000" style="font-weight:bold">K</text>
<line x1="630.70" y1="472.00" x2="630.70" y2="610.20" stroke="#000" stroke-width="1.6" stroke-linecap="butt"/>
<line x1="625.20" y1="472.80" x2="630.70" y2="472.80" stroke="#000" stroke-width="1.6" stroke-linecap="butt"/>
<text x="623.20" y="477.70" font-size="13.7" text-anchor="end" fill="#1e1e1e">250</text>
<line x1="625.20" y1="500.12" x2="630.70" y2="500.12" stroke="#000" stroke-width="1.6" stroke-linecap="butt"/>
<text x="623.20" y="505.02" font-size="13.7" text-anchor="end" fill="#1e1e1e">200</text>
<line x1="625.20" y1="527.44" x2="630.70" y2="527.44" stroke="#000" stroke-width="1.6" stroke-linecap="butt"/>
<text x="623.20" y="532.34" font-size="13.7" text-anchor="end" fill="#1e1e1e">150</text>
<line x1="625.20" y1="554.76" x2="630.70" y2="554.76" stroke="#000" stroke-width="1.6" stroke-linecap="butt"/>
<text x="623.20" y="559.66" font-size="13.7" text-anchor="end" fill="#1e1e1e">100</text>
<line x1="625.20" y1="582.08" x2="630.70" y2="582.08" stroke="#000" stroke-width="1.6" stroke-linecap="butt"/>
<text x="623.20" y="586.98" font-size="13.7" text-anchor="end" fill="#1e1e1e">50</text>
<line x1="625.20" y1="609.40" x2="630.70" y2="609.40" stroke="#000" stroke-width="1.6" stroke-linecap="butt"/>
<text x="623.20" y="614.30" font-size="13.7" text-anchor="end" fill="#1e1e1e">0</text>
<line x1="629.90" y1="609.40" x2="744.40" y2="609.40" stroke="#000" stroke-width="1.6" stroke-linecap="butt"/>
<line x1="642.40" y1="609.40" x2="642.40" y2="614.40" stroke="#000" stroke-width="1.6" stroke-linecap="butt"/>
<line x1="660.50" y1="609.40" x2="660.50" y2="614.40" stroke="#000" stroke-width="1.6" stroke-linecap="butt"/>
<line x1="678.50" y1="609.40" x2="678.50" y2="614.40" stroke="#000" stroke-width="1.6" stroke-linecap="butt"/>
<line x1="696.40" y1="609.40" x2="696.40" y2="614.40" stroke="#000" stroke-width="1.6" stroke-linecap="butt"/>
<line x1="714.20" y1="609.40" x2="714.20" y2="614.40" stroke="#000" stroke-width="1.6" stroke-linecap="butt"/>
<line x1="732.20" y1="609.40" x2="732.20" y2="614.40" stroke="#000" stroke-width="1.6" stroke-linecap="butt"/>
<text x="0" y="0" font-size="12.8" text-anchor="end" fill="#1e1e1e" transform="translate(646.90,626.50) rotate(-45)">0</text>
<text x="0" y="0" font-size="12.8" text-anchor="end" fill="#1e1e1e" transform="translate(665.00,626.50) rotate(-45)">15</text>
<text x="0" y="0" font-size="12.8" text-anchor="end" fill="#1e1e1e" transform="translate(683.00,626.50) rotate(-45)">30</text>
<text x="0" y="0" font-size="12.8" text-anchor="end" fill="#1e1e1e" transform="translate(700.90,626.50) rotate(-45)">60</text>
<text x="0" y="0" font-size="12.8" text-anchor="end" fill="#1e1e1e" transform="translate(718.70,626.50) rotate(-45)">90</text>
<text x="0" y="0" font-size="12.8" text-anchor="end" fill="#1e1e1e" transform="translate(736.70,626.50) rotate(-45)">120</text>
<text x="688.20" y="651.60" font-size="13.65" text-anchor="middle" fill="#1e1e1e">Time (minutes)</text>
<text x="594.40" y="537.50" font-size="13.6" text-anchor="middle" fill="#1e1e1e" transform="rotate(-90 594.4 537.5)">Blood glucose (% initial)</text>
<line x1="633.20" y1="473.40" x2="652.90" y2="473.40" stroke="#3651a8" stroke-width="1.2" stroke-linecap="butt"/>
<circle cx="643.05" cy="473.40" r="1.9" fill="none" stroke="#3651a8" stroke-width="1.15"/>
<text x="664.70" y="477.90" font-size="12.3" text-anchor="start" fill="#1e1e1e" style="font-style:italic">WT</text>
<line x1="633.20" y1="487.80" x2="652.90" y2="487.80" stroke="#ea1f27" stroke-width="1.2" stroke-linecap="butt"/>
<circle cx="643.05" cy="487.80" r="1.9" fill="none" stroke="#ea1f27" stroke-width="1.15"/>
<text x="664.70" y="492.30" font-size="12.3" text-anchor="start" fill="#1e1e1e" style="font-style:italic">UKO</text>
<text x="707.90" y="483.70" font-size="12.35" text-anchor="start" fill="#1e1e1e">GgTT</text>
<text x="632.90" y="604.30" font-size="12.35" text-anchor="start" fill="#1e1e1e">Male: HFD - 8 weeks</text>
<polyline points="642.40,555.10 660.50,530.00 678.50,534.70 696.40,547.60 714.20,553.50 732.20,554.60" fill="none" stroke="#3651a8" stroke-width="1.2" stroke-linejoin="round"/>
<line x1="660.50" y1="524.10" x2="660.50" y2="536.30" stroke="#3651a8" stroke-width="1.1" stroke-linecap="butt"/>
<line x1="658.30" y1="524.10" x2="662.70" y2="524.10" stroke="#3651a8" stroke-width="1.1" stroke-linecap="butt"/>
<line x1="658.30" y1="536.30" x2="662.70" y2="536.30" stroke="#3651a8" stroke-width="1.1" stroke-linecap="butt"/>
<line x1="678.50" y1="531.70" x2="678.50" y2="537.60" stroke="#3651a8" stroke-width="1.1" stroke-linecap="butt"/>
<line x1="676.30" y1="531.70" x2="680.70" y2="531.70" stroke="#3651a8" stroke-width="1.1" stroke-linecap="butt"/>
<line x1="676.30" y1="537.60" x2="680.70" y2="537.60" stroke="#3651a8" stroke-width="1.1" stroke-linecap="butt"/>
<line x1="696.40" y1="546.00" x2="696.40" y2="549.50" stroke="#3651a8" stroke-width="1.1" stroke-linecap="butt"/>
<line x1="694.20" y1="546.00" x2="698.60" y2="546.00" stroke="#3651a8" stroke-width="1.1" stroke-linecap="butt"/>
<line x1="694.20" y1="549.50" x2="698.60" y2="549.50" stroke="#3651a8" stroke-width="1.1" stroke-linecap="butt"/>
<circle cx="642.40" cy="555.10" r="1.9" fill="none" stroke="#3651a8" stroke-width="1.15"/>
<circle cx="660.50" cy="530.00" r="1.9" fill="none" stroke="#3651a8" stroke-width="1.15"/>
<circle cx="678.50" cy="534.70" r="1.9" fill="none" stroke="#3651a8" stroke-width="1.15"/>
<circle cx="696.40" cy="547.60" r="1.9" fill="none" stroke="#3651a8" stroke-width="1.15"/>
<circle cx="714.20" cy="553.50" r="1.9" fill="none" stroke="#3651a8" stroke-width="1.15"/>
<circle cx="732.20" cy="554.60" r="1.9" fill="none" stroke="#3651a8" stroke-width="1.15"/>
<polyline points="642.40,555.10 660.50,521.20 678.50,514.20 696.40,521.40 714.20,528.80 732.20,528.80" fill="none" stroke="#ea1f27" stroke-width="1.2" stroke-linejoin="round"/>
<line x1="660.50" y1="518.50" x2="660.50" y2="524.10" stroke="#ea1f27" stroke-width="1.1" stroke-linecap="butt"/>
<line x1="658.30" y1="518.50" x2="662.70" y2="518.50" stroke="#ea1f27" stroke-width="1.1" stroke-linecap="butt"/>
<line x1="658.30" y1="524.10" x2="662.70" y2="524.10" stroke="#ea1f27" stroke-width="1.1" stroke-linecap="butt"/>
<line x1="678.50" y1="509.50" x2="678.50" y2="519.30" stroke="#ea1f27" stroke-width="1.1" stroke-linecap="butt"/>
<line x1="676.30" y1="509.50" x2="680.70" y2="509.50" stroke="#ea1f27" stroke-width="1.1" stroke-linecap="butt"/>
<line x1="676.30" y1="519.30" x2="680.70" y2="519.30" stroke="#ea1f27" stroke-width="1.1" stroke-linecap="butt"/>
<line x1="696.40" y1="517.40" x2="696.40" y2="526.50" stroke="#ea1f27" stroke-width="1.1" stroke-linecap="butt"/>
<line x1="694.20" y1="517.40" x2="698.60" y2="517.40" stroke="#ea1f27" stroke-width="1.1" stroke-linecap="butt"/>
<line x1="694.20" y1="526.50" x2="698.60" y2="526.50" stroke="#ea1f27" stroke-width="1.1" stroke-linecap="butt"/>
<line x1="714.20" y1="524.40" x2="714.20" y2="533.60" stroke="#ea1f27" stroke-width="1.1" stroke-linecap="butt"/>
<line x1="712.00" y1="524.40" x2="716.40" y2="524.40" stroke="#ea1f27" stroke-width="1.1" stroke-linecap="butt"/>
<line x1="712.00" y1="533.60" x2="716.40" y2="533.60" stroke="#ea1f27" stroke-width="1.1" stroke-linecap="butt"/>
<line x1="732.20" y1="524.40" x2="732.20" y2="533.30" stroke="#ea1f27" stroke-width="1.1" stroke-linecap="butt"/>
<line x1="730.00" y1="524.40" x2="734.40" y2="524.40" stroke="#ea1f27" stroke-width="1.1" stroke-linecap="butt"/>
<line x1="730.00" y1="533.30" x2="734.40" y2="533.30" stroke="#ea1f27" stroke-width="1.1" stroke-linecap="butt"/>
<circle cx="642.40" cy="555.10" r="1.9" fill="none" stroke="#ea1f27" stroke-width="1.15"/>
<circle cx="660.50" cy="521.20" r="1.9" fill="none" stroke="#ea1f27" stroke-width="1.15"/>
<circle cx="678.50" cy="514.20" r="1.9" fill="none" stroke="#ea1f27" stroke-width="1.15"/>
<circle cx="696.40" cy="521.40" r="1.9" fill="none" stroke="#ea1f27" stroke-width="1.15"/>
<circle cx="714.20" cy="528.80" r="1.9" fill="none" stroke="#ea1f27" stroke-width="1.15"/>
<circle cx="732.20" cy="528.80" r="1.9" fill="none" stroke="#ea1f27" stroke-width="1.15"/>
<text x="676.10" y="552.40" font-size="15" text-anchor="middle" fill="#1e1e1e">***</text>
<line x1="695.10" y1="562.20" x2="735.20" y2="562.20" stroke="#222" stroke-width="1.2" stroke-linecap="butt"/>
<text x="0.00" y="0.00" font-size="13.7" text-anchor="middle" fill="#1e1e1e"></text>
<text x="715.30" y="575.50" font-size="15" text-anchor="middle" fill="#1e1e1e">****</text>
<text x="1.10" y="682.80" font-size="18.5" text-anchor="start" fill="#000" style="font-weight:bold">L</text>
<line x1="63.40" y1="695.50" x2="63.40" y2="833.30" stroke="#000" stroke-width="1.6" stroke-linecap="butt"/>
<line x1="57.90" y1="696.30" x2="63.40" y2="696.30" stroke="#000" stroke-width="1.6" stroke-linecap="butt"/>
<text x="55.90" y="701.20" font-size="13.7" text-anchor="end" fill="#1e1e1e">25000</text>
<line x1="57.90" y1="723.54" x2="63.40" y2="723.54" stroke="#000" stroke-width="1.6" stroke-linecap="butt"/>
<text x="55.90" y="728.44" font-size="13.7" text-anchor="end" fill="#1e1e1e">20000</text>
<line x1="57.90" y1="750.78" x2="63.40" y2="750.78" stroke="#000" stroke-width="1.6" stroke-linecap="butt"/>
<text x="55.90" y="755.68" font-size="13.7" text-anchor="end" fill="#1e1e1e">15000</text>
<line x1="57.90" y1="778.02" x2="63.40" y2="778.02" stroke="#000" stroke-width="1.6" stroke-linecap="butt"/>
<text x="55.90" y="782.92" font-size="13.7" text-anchor="end" fill="#1e1e1e">10000</text>
<line x1="57.90" y1="805.26" x2="63.40" y2="805.26" stroke="#000" stroke-width="1.6" stroke-linecap="butt"/>
<text x="55.90" y="810.16" font-size="13.7" text-anchor="end" fill="#1e1e1e">5000</text>
<line x1="57.90" y1="832.50" x2="63.40" y2="832.50" stroke="#000" stroke-width="1.6" stroke-linecap="butt"/>
<text x="55.90" y="837.40" font-size="13.7" text-anchor="end" fill="#1e1e1e">0</text>
<line x1="62.60" y1="832.50" x2="132.40" y2="832.50" stroke="#000" stroke-width="1.6" stroke-linecap="butt"/>
<line x1="82.70" y1="832.50" x2="82.70" y2="837.50" stroke="#000" stroke-width="1.6" stroke-linecap="butt"/>
<line x1="111.90" y1="832.50" x2="111.90" y2="837.50" stroke="#000" stroke-width="1.6" stroke-linecap="butt"/>
<text x="83.20" y="851.90" font-size="13.6" text-anchor="middle" fill="#1e1e1e" style="font-style:italic">WT</text>
<text x="112.40" y="851.90" font-size="13.6" text-anchor="middle" fill="#1e1e1e" style="font-style:italic">UKO</text>
<text x="12.40" y="761.80" font-size="13.5" text-anchor="middle" fill="#1e1e1e" transform="rotate(-90 12.4 761.8)">AUC GgTT (% initial)</text>
<text x="65.90" y="826.60" font-size="12.35" text-anchor="start" fill="#1e1e1e">Male: HFD</text>
<line x1="80.00" y1="710.90" x2="108.90" y2="710.90" stroke="#5a5a5a" stroke-width="1.2" stroke-linecap="butt"/>
<text x="0.00" y="0.00" font-size="13.7" text-anchor="middle" fill="#1e1e1e"></text>
<text x="93.50" y="713.30" font-size="15" text-anchor="middle" fill="#1e1e1e">****</text>
<line x1="73.40" y1="755.90" x2="92.60" y2="755.90" stroke="#3651a8" stroke-width="1.2" stroke-linecap="butt"/>
<line x1="82.95" y1="754.20" x2="82.95" y2="757.50" stroke="#3651a8" stroke-width="1.2" stroke-linecap="butt"/>
<line x1="78.30" y1="754.20" x2="87.60" y2="754.20" stroke="#3651a8" stroke-width="1.2" stroke-linecap="butt"/>
<line x1="78.30" y1="757.50" x2="87.60" y2="757.50" stroke="#3651a8" stroke-width="1.2" stroke-linecap="butt"/>
<circle cx="77.60" cy="749.10" r="1.9" fill="none" stroke="#3651a8" stroke-width="1.15"/>
<circle cx="82.90" cy="750.30" r="1.9" fill="none" stroke="#3651a8" stroke-width="1.15"/>
<circle cx="88.60" cy="749.30" r="1.9" fill="none" stroke="#3651a8" stroke-width="1.15"/>
<circle cx="75.70" cy="755.10" r="1.9" fill="none" stroke="#3651a8" stroke-width="1.15"/>
<circle cx="80.40" cy="757.00" r="1.9" fill="none" stroke="#3651a8" stroke-width="1.15"/>
<circle cx="85.10" cy="757.00" r="1.9" fill="none" stroke="#3651a8" stroke-width="1.15"/>
<circle cx="90.20" cy="756.50" r="1.9" fill="none" stroke="#3651a8" stroke-width="1.15"/>
<circle cx="86.00" cy="764.50" r="1.9" fill="none" stroke="#3651a8" stroke-width="1.15"/>
<circle cx="80.40" cy="767.10" r="1.9" fill="none" stroke="#3651a8" stroke-width="1.15"/>
<line x1="102.40" y1="731.30" x2="121.70" y2="731.30" stroke="#ea1f27" stroke-width="1.2" stroke-linecap="butt"/>
<line x1="112.20" y1="728.00" x2="112.20" y2="735.00" stroke="#ea1f27" stroke-width="1.2" stroke-linecap="butt"/>
<line x1="107.50" y1="728.00" x2="116.90" y2="728.00" stroke="#ea1f27" stroke-width="1.2" stroke-linecap="butt"/>
<line x1="107.50" y1="735.00" x2="116.90" y2="735.00" stroke="#ea1f27" stroke-width="1.2" stroke-linecap="butt"/>
<circle cx="112.20" cy="717.80" r="1.9" fill="none" stroke="#ea1f27" stroke-width="1.15"/>
<circle cx="105.00" cy="724.80" r="1.9" fill="none" stroke="#ea1f27" stroke-width="1.15"/>
<circle cx="114.50" cy="725.00" r="1.9" fill="none" stroke="#ea1f27" stroke-width="1.15"/>
<circle cx="119.70" cy="724.50" r="1.9" fill="none" stroke="#ea1f27" stroke-width="1.15"/>
<circle cx="109.70" cy="728.50" r="1.9" fill="none" stroke="#ea1f27" stroke-width="1.15"/>
<circle cx="117.60" cy="734.60" r="1.9" fill="none" stroke="#ea1f27" stroke-width="1.15"/>
<circle cx="106.80" cy="738.10" r="1.9" fill="none" stroke="#ea1f27" stroke-width="1.15"/>
<circle cx="112.40" cy="739.30" r="1.9" fill="none" stroke="#ea1f27" stroke-width="1.15"/>
<circle cx="112.40" cy="751.20" r="1.9" fill="none" stroke="#ea1f27" stroke-width="1.15"/>
<text x="198.00" y="682.80" font-size="18.5" text-anchor="start" fill="#000" style="font-weight:bold">M</text>
<line x1="244.30" y1="697.30" x2="244.30" y2="834.60" stroke="#000" stroke-width="1.6" stroke-linecap="butt"/>
<line x1="238.80" y1="698.10" x2="244.30" y2="698.10" stroke="#000" stroke-width="1.6" stroke-linecap="butt"/>
<text x="236.80" y="703.00" font-size="13.7" text-anchor="end" fill="#1e1e1e">150</text>
<line x1="238.80" y1="743.40" x2="244.30" y2="743.40" stroke="#000" stroke-width="1.6" stroke-linecap="butt"/>
<text x="236.80" y="748.30" font-size="13.7" text-anchor="end" fill="#1e1e1e">100</text>
<line x1="238.80" y1="788.60" x2="244.30" y2="788.60" stroke="#000" stroke-width="1.6" stroke-linecap="butt"/>
<text x="236.80" y="793.50" font-size="13.7" text-anchor="end" fill="#1e1e1e">50</text>
<line x1="238.80" y1="833.80" x2="244.30" y2="833.80" stroke="#000" stroke-width="1.6" stroke-linecap="butt"/>
<text x="236.80" y="838.70" font-size="13.7" text-anchor="end" fill="#1e1e1e">0</text>
<line x1="243.50" y1="833.80" x2="312.00" y2="833.80" stroke="#000" stroke-width="1.6" stroke-linecap="butt"/>
<line x1="263.70" y1="833.80" x2="263.70" y2="838.80" stroke="#000" stroke-width="1.6" stroke-linecap="butt"/>
<line x1="292.60" y1="833.80" x2="292.60" y2="838.80" stroke="#000" stroke-width="1.6" stroke-linecap="butt"/>
<text x="264.20" y="853.20" font-size="13.6" text-anchor="middle" fill="#1e1e1e" style="font-style:italic">WT</text>
<text x="293.10" y="853.20" font-size="13.6" text-anchor="middle" fill="#1e1e1e" style="font-style:italic">UKO</text>
<text x="208.20" y="764.70" font-size="13.6" text-anchor="middle" fill="#1e1e1e" transform="rotate(-90 208.2 764.7)">Serum TAG (mg/dL)</text>
<text x="247.40" y="830.70" font-size="12.35" text-anchor="start" fill="#1e1e1e">Male: HFD</text>
<line x1="261.80" y1="716.20" x2="289.90" y2="716.20" stroke="#5a5a5a" stroke-width="1.2" stroke-linecap="butt"/>
<text x="0.00" y="0.00" font-size="13.7" text-anchor="middle" fill="#1e1e1e"></text>
<text x="273.30" y="717.60" font-size="15" text-anchor="middle" fill="#1e1e1e">*</text>
<line x1="253.90" y1="755.40" x2="273.00" y2="755.40" stroke="#000" stroke-width="1.2" stroke-linecap="butt"/>
<line x1="263.45" y1="751.20" x2="263.45" y2="759.80" stroke="#000" stroke-width="1.2" stroke-linecap="butt"/>
<line x1="259.00" y1="751.20" x2="267.90" y2="751.20" stroke="#000" stroke-width="1.2" stroke-linecap="butt"/>
<line x1="259.00" y1="759.80" x2="267.90" y2="759.80" stroke="#000" stroke-width="1.2" stroke-linecap="butt"/>
<circle cx="260.90" cy="747.40" r="1.9" fill="none" stroke="#3651a8" stroke-width="1.15"/>
<circle cx="266.30" cy="744.90" r="1.9" fill="none" stroke="#3651a8" stroke-width="1.15"/>
<circle cx="260.90" cy="757.80" r="1.9" fill="none" stroke="#3651a8" stroke-width="1.15"/>
<circle cx="266.30" cy="758.90" r="1.9" fill="none" stroke="#3651a8" stroke-width="1.15"/>
<circle cx="263.50" cy="768.20" r="1.9" fill="none" stroke="#3651a8" stroke-width="1.15"/>
<line x1="282.90" y1="737.40" x2="302.00" y2="737.40" stroke="#000" stroke-width="1.2" stroke-linecap="butt"/>
<line x1="292.45" y1="732.50" x2="292.45" y2="742.50" stroke="#000" stroke-width="1.2" stroke-linecap="butt"/>
<line x1="288.00" y1="732.50" x2="296.90" y2="732.50" stroke="#000" stroke-width="1.2" stroke-linecap="butt"/>
<line x1="288.00" y1="742.50" x2="296.90" y2="742.50" stroke="#000" stroke-width="1.2" stroke-linecap="butt"/>
<circle cx="292.40" cy="724.30" r="1.9" fill="none" stroke="#ea1f27" stroke-width="1.15"/>
<circle cx="289.70" cy="730.70" r="1.9" fill="none" stroke="#ea1f27" stroke-width="1.15"/>
<circle cx="295.20" cy="733.60" r="1.9" fill="none" stroke="#ea1f27" stroke-width="1.15"/>
<circle cx="289.70" cy="750.00" r="1.9" fill="none" stroke="#ea1f27" stroke-width="1.15"/>
<circle cx="295.20" cy="748.80" r="1.9" fill="none" stroke="#ea1f27" stroke-width="1.15"/>
<text x="407.40" y="682.80" font-size="18.5" text-anchor="start" fill="#000" style="font-weight:bold">N</text>
<line x1="449.60" y1="695.50" x2="449.60" y2="832.50" stroke="#000" stroke-width="1.6" stroke-linecap="butt"/>
<line x1="444.10" y1="696.30" x2="449.60" y2="696.30" stroke="#000" stroke-width="1.6" stroke-linecap="butt"/>
<text x="442.10" y="701.20" font-size="13.7" text-anchor="end" fill="#1e1e1e">0.8</text>
<line x1="444.10" y1="730.15" x2="449.60" y2="730.15" stroke="#000" stroke-width="1.6" stroke-linecap="butt"/>
<text x="442.10" y="735.05" font-size="13.7" text-anchor="end" fill="#1e1e1e">0.6</text>
<line x1="444.10" y1="764.00" x2="449.60" y2="764.00" stroke="#000" stroke-width="1.6" stroke-linecap="butt"/>
<text x="442.10" y="768.90" font-size="13.7" text-anchor="end" fill="#1e1e1e">0.4</text>
<line x1="444.10" y1="797.85" x2="449.60" y2="797.85" stroke="#000" stroke-width="1.6" stroke-linecap="butt"/>
<text x="442.10" y="802.75" font-size="13.7" text-anchor="end" fill="#1e1e1e">0.2</text>
<line x1="444.10" y1="831.70" x2="449.60" y2="831.70" stroke="#000" stroke-width="1.6" stroke-linecap="butt"/>
<text x="442.10" y="836.60" font-size="13.7" text-anchor="end" fill="#1e1e1e">0.0</text>
<line x1="448.80" y1="831.70" x2="517.50" y2="831.70" stroke="#000" stroke-width="1.6" stroke-linecap="butt"/>
<line x1="468.40" y1="831.70" x2="468.40" y2="836.70" stroke="#000" stroke-width="1.6" stroke-linecap="butt"/>
<line x1="497.60" y1="831.70" x2="497.60" y2="836.70" stroke="#000" stroke-width="1.6" stroke-linecap="butt"/>
<text x="468.90" y="850.60" font-size="13.6" text-anchor="middle" fill="#1e1e1e" style="font-style:italic">WT</text>
<text x="498.10" y="850.60" font-size="13.6" text-anchor="middle" fill="#1e1e1e" style="font-style:italic">UKO</text>
<text x="416.80" y="763.00" font-size="13.7" text-anchor="middle" fill="#1e1e1e" transform="rotate(-90 416.8 763.0)">Serum NEFA (mEq/L)</text>
<text x="452.40" y="828.10" font-size="12.35" text-anchor="start" fill="#1e1e1e">Male: HFD</text>
<line x1="466.40" y1="704.50" x2="496.70" y2="704.50" stroke="#222" stroke-width="1.2" stroke-linecap="butt"/>
<text x="0.00" y="0.00" font-size="13.7" text-anchor="middle" fill="#1e1e1e"></text>
<text x="481.60" y="705.50" font-size="15" text-anchor="middle" fill="#1e1e1e">*</text>
<line x1="458.90" y1="741.10" x2="478.50" y2="741.10" stroke="#000" stroke-width="1.2" stroke-linecap="butt"/>
<line x1="468.70" y1="733.50" x2="468.70" y2="748.40" stroke="#000" stroke-width="1.2" stroke-linecap="butt"/>
<line x1="464.00" y1="733.50" x2="473.40" y2="733.50" stroke="#000" stroke-width="1.2" stroke-linecap="butt"/>
<line x1="464.00" y1="748.40" x2="473.40" y2="748.40" stroke="#000" stroke-width="1.2" stroke-linecap="butt"/>
<circle cx="471.30" cy="722.50" r="1.9" fill="none" stroke="#3651a8" stroke-width="1.15"/>
<circle cx="465.90" cy="726.90" r="1.9" fill="none" stroke="#3651a8" stroke-width="1.15"/>
<circle cx="465.90" cy="744.40" r="1.9" fill="none" stroke="#3651a8" stroke-width="1.15"/>
<circle cx="471.30" cy="748.90" r="1.9" fill="none" stroke="#3651a8" stroke-width="1.15"/>
<circle cx="468.50" cy="762.70" r="1.9" fill="none" stroke="#3651a8" stroke-width="1.15"/>
<line x1="488.10" y1="719.90" x2="507.80" y2="719.90" stroke="#000" stroke-width="1.2" stroke-linecap="butt"/>
<line x1="498.00" y1="717.30" x2="498.00" y2="722.20" stroke="#000" stroke-width="1.2" stroke-linecap="butt"/>
<line x1="493.20" y1="717.30" x2="502.80" y2="717.30" stroke="#000" stroke-width="1.2" stroke-linecap="butt"/>
<line x1="493.20" y1="722.20" x2="502.80" y2="722.20" stroke="#000" stroke-width="1.2" stroke-linecap="butt"/>
<circle cx="497.70" cy="711.50" r="1.9" fill="none" stroke="#ea1f27" stroke-width="1.15"/>
<circle cx="497.70" cy="717.90" r="1.9" fill="none" stroke="#ea1f27" stroke-width="1.15"/>
<circle cx="492.20" cy="721.10" r="1.9" fill="none" stroke="#ea1f27" stroke-width="1.15"/>
<circle cx="503.30" cy="723.80" r="1.9" fill="none" stroke="#ea1f27" stroke-width="1.15"/>
<circle cx="497.70" cy="725.30" r="1.9" fill="none" stroke="#ea1f27" stroke-width="1.15"/>
<text x="632.00" y="682.80" font-size="18.5" text-anchor="start" fill="#000" style="font-weight:bold">O</text>
<line x1="678.90" y1="705.80" x2="678.90" y2="843.60" stroke="#000" stroke-width="1.6" stroke-linecap="butt"/>
<line x1="673.40" y1="706.60" x2="678.90" y2="706.60" stroke="#000" stroke-width="1.6" stroke-linecap="butt"/>
<text x="671.40" y="711.50" font-size="13.7" text-anchor="end" fill="#1e1e1e">300</text>
<line x1="673.40" y1="752.00" x2="678.90" y2="752.00" stroke="#000" stroke-width="1.6" stroke-linecap="butt"/>
<text x="671.40" y="756.90" font-size="13.7" text-anchor="end" fill="#1e1e1e">200</text>
<line x1="673.40" y1="797.40" x2="678.90" y2="797.40" stroke="#000" stroke-width="1.6" stroke-linecap="butt"/>
<text x="671.40" y="802.30" font-size="13.7" text-anchor="end" fill="#1e1e1e">100</text>
<line x1="673.40" y1="842.80" x2="678.90" y2="842.80" stroke="#000" stroke-width="1.6" stroke-linecap="butt"/>
<text x="671.40" y="847.70" font-size="13.7" text-anchor="end" fill="#1e1e1e">0</text>
<line x1="678.10" y1="842.80" x2="747.70" y2="842.80" stroke="#000" stroke-width="1.6" stroke-linecap="butt"/>
<line x1="697.30" y1="842.80" x2="697.30" y2="847.80" stroke="#000" stroke-width="1.6" stroke-linecap="butt"/>
<line x1="726.30" y1="842.80" x2="726.30" y2="847.80" stroke="#000" stroke-width="1.6" stroke-linecap="butt"/>
<text x="697.80" y="861.50" font-size="13.6" text-anchor="middle" fill="#1e1e1e" style="font-style:italic">WT</text>
<text x="726.80" y="861.50" font-size="13.6" text-anchor="middle" fill="#1e1e1e" style="font-style:italic">UKO</text>
<text x="641.90" y="772.80" font-size="13.3" text-anchor="middle" fill="#1e1e1e" transform="rotate(-90 641.9 772.8)">Serum Cholesterol (mg/dL)</text>
<text x="681.60" y="838.40" font-size="12.35" text-anchor="start" fill="#1e1e1e">Male: HFD</text>
<line x1="688.30" y1="732.90" x2="707.60" y2="732.90" stroke="#000" stroke-width="1.2" stroke-linecap="butt"/>
<line x1="698.00" y1="727.90" x2="698.00" y2="737.80" stroke="#000" stroke-width="1.2" stroke-linecap="butt"/>
<line x1="693.40" y1="727.90" x2="702.60" y2="727.90" stroke="#000" stroke-width="1.2" stroke-linecap="butt"/>
<line x1="693.40" y1="737.80" x2="702.60" y2="737.80" stroke="#000" stroke-width="1.2" stroke-linecap="butt"/>
<circle cx="695.50" cy="722.10" r="1.9" fill="none" stroke="#3651a8" stroke-width="1.15"/>
<circle cx="701.00" cy="722.80" r="1.9" fill="none" stroke="#3651a8" stroke-width="1.15"/>
<circle cx="698.10" cy="732.90" r="1.9" fill="none" stroke="#3651a8" stroke-width="1.15"/>
<circle cx="698.10" cy="739.20" r="1.9" fill="none" stroke="#3651a8" stroke-width="1.15"/>
<circle cx="698.10" cy="747.50" r="1.9" fill="none" stroke="#3651a8" stroke-width="1.15"/>
<line x1="717.30" y1="728.10" x2="736.80" y2="728.10" stroke="#000" stroke-width="1.2" stroke-linecap="butt"/>
<line x1="727.15" y1="723.50" x2="727.15" y2="732.30" stroke="#000" stroke-width="1.2" stroke-linecap="butt"/>
<line x1="722.40" y1="723.50" x2="731.90" y2="723.50" stroke="#000" stroke-width="1.2" stroke-linecap="butt"/>
<line x1="722.40" y1="732.30" x2="731.90" y2="732.30" stroke="#000" stroke-width="1.2" stroke-linecap="butt"/>
<circle cx="727.30" cy="710.10" r="1.9" fill="none" stroke="#ea1f27" stroke-width="1.15"/>
<circle cx="719.80" cy="730.90" r="1.9" fill="none" stroke="#ea1f27" stroke-width="1.15"/>
<circle cx="734.50" cy="730.20" r="1.9" fill="none" stroke="#ea1f27" stroke-width="1.15"/>
<circle cx="724.90" cy="735.00" r="1.9" fill="none" stroke="#ea1f27" stroke-width="1.15"/>
<circle cx="729.70" cy="734.60" r="1.9" fill="none" stroke="#ea1f27" stroke-width="1.15"/>
</svg></body></html>
